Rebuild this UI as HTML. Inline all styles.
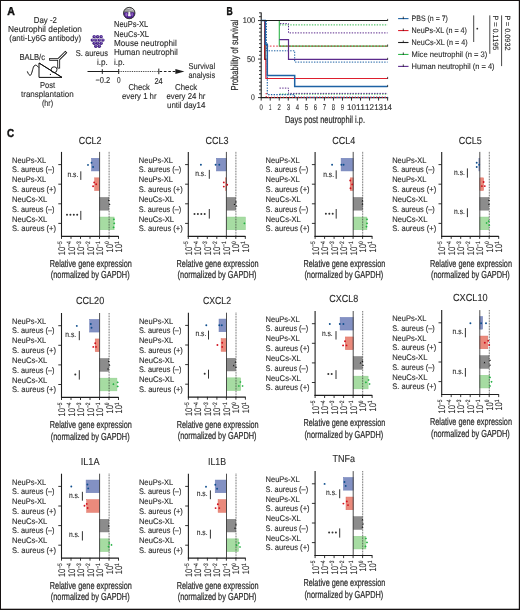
<!DOCTYPE html>
<html><head><meta charset="utf-8"><title>Figure</title>
<style>
html,body{margin:0;padding:0;background:#fff;}
body{width:520px;height:610px;overflow:hidden;}
svg{display:block;font-family:"Liberation Sans",sans-serif;will-change:transform;text-rendering:geometricPrecision;}
</style></head>
<body>
<svg width="520" height="610" viewBox="0 0 520 610">
<defs>
<clipPath id="nc"><circle cx="129.25" cy="13.06" r="5.8"/></clipPath>
<radialGradient id="sg" cx="0.55" cy="0.4" r="0.65"><stop offset="0" stop-color="#9a7fcc"/><stop offset="0.45" stop-color="#4f2a92"/><stop offset="1" stop-color="#260a5c"/></radialGradient>
<linearGradient id="ng" x1="0" y1="0" x2="0" y2="1"><stop offset="0" stop-color="#9a9a9a"/><stop offset="0.5" stop-color="#6a6a6a"/><stop offset="0.55" stop-color="#4a1f8f"/><stop offset="1" stop-color="#3a137a"/></linearGradient>
</defs>
<rect x="0" y="0" width="520" height="610" fill="#fff"/>
<text x="7.30" y="14.80" font-size="11.5" textLength="7.62" lengthAdjust="spacingAndGlyphs" fill="#111" font-weight="bold" stroke="#111" stroke-width="0.4">A</text>
<text x="33.80" y="22.80" font-size="8.6" textLength="23.10" lengthAdjust="spacingAndGlyphs" fill="#2b2b2b" stroke="#2b2b2b" stroke-width="0.12">Day -2</text>
<text x="8.10" y="31.90" font-size="8.6" textLength="73.90" lengthAdjust="spacingAndGlyphs" fill="#2b2b2b" stroke="#2b2b2b" stroke-width="0.12">Neutrophil depletion</text>
<text x="9.30" y="41.30" font-size="8.6" textLength="71.79" lengthAdjust="spacingAndGlyphs" fill="#2b2b2b" stroke="#2b2b2b" stroke-width="0.12">(anti-Ly6G antibody)</text>
<text x="19.40" y="59.70" font-size="8.6" textLength="25.60" lengthAdjust="spacingAndGlyphs" fill="#2b2b2b" stroke="#2b2b2b" stroke-width="0.12">BALB/c</text>
<text x="40.00" y="87.50" font-size="8.6" textLength="15.21" lengthAdjust="spacingAndGlyphs" fill="#2b2b2b" stroke="#2b2b2b" stroke-width="0.12">Post</text>
<text x="21.00" y="97.30" font-size="8.6" textLength="52.70" lengthAdjust="spacingAndGlyphs" fill="#2b2b2b" stroke="#2b2b2b" stroke-width="0.12">transplantation</text>
<text x="41.90" y="106.30" font-size="8.6" textLength="11.20" lengthAdjust="spacingAndGlyphs" fill="#2b2b2b" stroke="#2b2b2b" stroke-width="0.12">(hr)</text>
<path d="M27.3,71.4 C28.5,74.5 29.6,75.6 30.4,75.3 C31.6,74.8 32.4,70 33.4,67.2 C34.3,65.1 35.6,64.9 36.3,65.3 C37.3,65.9 38.1,66.8 38.8,67.5" stroke="#111" stroke-width="1.0" fill="none"/>
<path d="M39.0,63.0 L39.0,77.4 L62.0,77.4 Z" stroke="#111" stroke-width="1.0" fill="none"/>
<circle cx="54.1" cy="69.7" r="2.9" stroke="#111" stroke-width="0.9" fill="#fff"/>
<path d="M39.0,63.0 L62.0,77.4" stroke="#111" stroke-width="1.0" fill="none"/>
<circle cx="50.4" cy="74.4" r="0.6" fill="#111"/>
<path d="M50.6,59.3 L58.7,59.3 L65.3,52.7 M58.7,59.3 L58.7,67.2" stroke="#111" stroke-width="2.8" fill="none" stroke-linecap="square"/>
<path d="M50.6,59.3 L58.7,59.3 L65.3,52.7 M58.7,59.3 L58.7,67.2" stroke="#fff" stroke-width="1.1" fill="none" stroke-linecap="square"/>
<circle cx="94.2" cy="36.8" r="1.7" fill="url(#sg)"/>
<circle cx="97.6" cy="36.8" r="1.7" fill="url(#sg)"/>
<circle cx="101.1" cy="36.8" r="1.7" fill="url(#sg)"/>
<circle cx="92.3" cy="40.1" r="1.7" fill="url(#sg)"/>
<circle cx="95.8" cy="40.1" r="1.7" fill="url(#sg)"/>
<circle cx="99.3" cy="40.1" r="1.7" fill="url(#sg)"/>
<circle cx="102.9" cy="40.1" r="1.7" fill="url(#sg)"/>
<circle cx="94.2" cy="43.3" r="1.7" fill="url(#sg)"/>
<circle cx="97.6" cy="43.3" r="1.7" fill="url(#sg)"/>
<circle cx="101.1" cy="43.3" r="1.7" fill="url(#sg)"/>
<circle cx="95.8" cy="46.3" r="1.7" fill="url(#sg)"/>
<circle cx="99.3" cy="46.3" r="1.7" fill="url(#sg)"/>
<text x="75.80" y="55.70" font-size="8.6" textLength="32.10" lengthAdjust="spacingAndGlyphs" fill="#2b2b2b" stroke="#2b2b2b" stroke-width="0.12">S. aureus</text>
<text x="97.00" y="64.90" font-size="8.6" textLength="10.89" lengthAdjust="spacingAndGlyphs" fill="#2b2b2b" stroke="#2b2b2b" stroke-width="0.12">i.p.</text>
<text x="113.90" y="64.90" font-size="8.6" textLength="10.89" lengthAdjust="spacingAndGlyphs" fill="#2b2b2b" stroke="#2b2b2b" stroke-width="0.12">i.p.</text>
<circle cx="129.25" cy="13.06" r="5.9" fill="#858585"/>
<g clip-path="url(#nc)"><path d="M122,8.8 C125,7.6 130,8.4 134,10.0" stroke="#e6e6e6" stroke-width="0.9" fill="none"/><path d="M123,10.6 C126,9.4 131,10.3 135,11.4" stroke="#d8d8d8" stroke-width="0.7" fill="none"/><path d="M122,13.2 C125.5,11.8 127.5,12.0 129.2,13.0 C131,12.0 133,11.8 137,13.2 L137,20 L122,20 Z" fill="#4b1c8e"/><ellipse cx="126.4" cy="14.6" rx="1.1" ry="1.9" fill="#9466c4"/><ellipse cx="132.2" cy="14.6" rx="1.0" ry="1.8" fill="#8a5cbc"/><path d="M128.6,11.6 L130.0,11.8 L130.9,16.3 L128.0,16.3 Z" fill="#f2f2f2"/></g>
<circle cx="129.25" cy="13.06" r="5.7" fill="none" stroke="#3c3c3c" stroke-width="1.0"/>
<text x="114.00" y="26.80" font-size="8.6" textLength="34.18" lengthAdjust="spacingAndGlyphs" fill="#2b2b2b" stroke="#2b2b2b" stroke-width="0.12">NeuPs-XL</text>
<text x="114.00" y="36.60" font-size="8.6" textLength="34.98" lengthAdjust="spacingAndGlyphs" fill="#2b2b2b" stroke="#2b2b2b" stroke-width="0.12">NeuCs-XL</text>
<text x="114.00" y="46.00" font-size="8.6" textLength="62.71" lengthAdjust="spacingAndGlyphs" fill="#2b2b2b" stroke="#2b2b2b" stroke-width="0.12">Mouse neutrophil</text>
<text x="114.00" y="55.40" font-size="8.6" textLength="63.79" lengthAdjust="spacingAndGlyphs" fill="#2b2b2b" stroke="#2b2b2b" stroke-width="0.12">Human neutrophil</text>
<line x1="87.50" y1="71.50" x2="118.70" y2="71.50" stroke="#1e1e1e" stroke-width="1.0"/>
<line x1="102.30" y1="69.20" x2="102.30" y2="73.90" stroke="#1e1e1e" stroke-width="1.0"/>
<line x1="118.70" y1="69.00" x2="118.70" y2="74.00" stroke="#1e1e1e" stroke-width="1.0"/>
<line x1="119.50" y1="71.50" x2="158.50" y2="71.50" stroke="#1e1e1e" stroke-width="0.9" stroke-dasharray="0.9 0.9"/>
<line x1="158.80" y1="68.60" x2="158.80" y2="74.20" stroke="#1e1e1e" stroke-width="1.0"/>
<line x1="159.50" y1="71.50" x2="178.00" y2="71.50" stroke="#1e1e1e" stroke-width="1.0" stroke-dasharray="2.6 1.8"/>
<path d="M175.4,69.1 L184.4,71.5 L175.4,73.9 Z" fill="#1e1e1e"/>
<text x="95.40" y="83.30" font-size="8.6" textLength="14.79" lengthAdjust="spacingAndGlyphs" fill="#2b2b2b" stroke="#2b2b2b" stroke-width="0.12">−0.2</text>
<text x="117.00" y="83.30" font-size="8.6" textLength="3.61" lengthAdjust="spacingAndGlyphs" fill="#2b2b2b" stroke="#2b2b2b" stroke-width="0.12">0</text>
<text x="154.50" y="83.50" font-size="8.6" textLength="8.22" lengthAdjust="spacingAndGlyphs" fill="#2b2b2b" stroke="#2b2b2b" stroke-width="0.12">24</text>
<text x="128.40" y="89.90" font-size="8.6" textLength="21.46" lengthAdjust="spacingAndGlyphs" fill="#2b2b2b" stroke="#2b2b2b" stroke-width="0.12">Check</text>
<text x="122.00" y="98.70" font-size="8.6" textLength="34.51" lengthAdjust="spacingAndGlyphs" fill="#2b2b2b" stroke="#2b2b2b" stroke-width="0.12">every 1 hr</text>
<text x="175.00" y="89.90" font-size="8.6" textLength="22.26" lengthAdjust="spacingAndGlyphs" fill="#2b2b2b" stroke="#2b2b2b" stroke-width="0.12">Check</text>
<text x="166.50" y="98.70" font-size="8.6" textLength="38.88" lengthAdjust="spacingAndGlyphs" fill="#2b2b2b" stroke="#2b2b2b" stroke-width="0.12">every 24 hr</text>
<text x="167.00" y="108.20" font-size="8.6" textLength="38.42" lengthAdjust="spacingAndGlyphs" fill="#2b2b2b" stroke="#2b2b2b" stroke-width="0.12">until day14</text>
<text x="188.50" y="68.80" font-size="8.6" textLength="26.61" lengthAdjust="spacingAndGlyphs" fill="#2b2b2b" stroke="#2b2b2b" stroke-width="0.12">Survival</text>
<text x="188.50" y="78.40" font-size="8.6" textLength="26.58" lengthAdjust="spacingAndGlyphs" fill="#2b2b2b" stroke="#2b2b2b" stroke-width="0.12">analysis</text>
<text x="226.50" y="14.70" font-size="11.5" textLength="6.22" lengthAdjust="spacingAndGlyphs" fill="#111" font-weight="bold" stroke="#111" stroke-width="0.4">B</text>
<line x1="261.20" y1="12.60" x2="261.20" y2="98.10" stroke="#1e1e1e" stroke-width="1.1"/>
<line x1="260.70" y1="97.60" x2="388.17" y2="97.60" stroke="#1e1e1e" stroke-width="1.1"/>
<line x1="258.00" y1="97.60" x2="261.20" y2="97.60" stroke="#1e1e1e" stroke-width="0.9"/>
<line x1="259.00" y1="93.75" x2="261.20" y2="93.75" stroke="#1e1e1e" stroke-width="0.9"/>
<line x1="259.00" y1="89.89" x2="261.20" y2="89.89" stroke="#1e1e1e" stroke-width="0.9"/>
<line x1="259.00" y1="86.04" x2="261.20" y2="86.04" stroke="#1e1e1e" stroke-width="0.9"/>
<line x1="259.00" y1="82.19" x2="261.20" y2="82.19" stroke="#1e1e1e" stroke-width="0.9"/>
<line x1="259.00" y1="78.34" x2="261.20" y2="78.34" stroke="#1e1e1e" stroke-width="0.9"/>
<line x1="259.00" y1="74.48" x2="261.20" y2="74.48" stroke="#1e1e1e" stroke-width="0.9"/>
<line x1="259.00" y1="70.63" x2="261.20" y2="70.63" stroke="#1e1e1e" stroke-width="0.9"/>
<line x1="259.00" y1="66.78" x2="261.20" y2="66.78" stroke="#1e1e1e" stroke-width="0.9"/>
<line x1="259.00" y1="62.93" x2="261.20" y2="62.93" stroke="#1e1e1e" stroke-width="0.9"/>
<line x1="258.00" y1="59.07" x2="261.20" y2="59.07" stroke="#1e1e1e" stroke-width="0.9"/>
<line x1="259.00" y1="55.22" x2="261.20" y2="55.22" stroke="#1e1e1e" stroke-width="0.9"/>
<line x1="259.00" y1="51.37" x2="261.20" y2="51.37" stroke="#1e1e1e" stroke-width="0.9"/>
<line x1="259.00" y1="47.52" x2="261.20" y2="47.52" stroke="#1e1e1e" stroke-width="0.9"/>
<line x1="259.00" y1="43.66" x2="261.20" y2="43.66" stroke="#1e1e1e" stroke-width="0.9"/>
<line x1="259.00" y1="39.81" x2="261.20" y2="39.81" stroke="#1e1e1e" stroke-width="0.9"/>
<line x1="259.00" y1="35.96" x2="261.20" y2="35.96" stroke="#1e1e1e" stroke-width="0.9"/>
<line x1="259.00" y1="32.11" x2="261.20" y2="32.11" stroke="#1e1e1e" stroke-width="0.9"/>
<line x1="259.00" y1="28.25" x2="261.20" y2="28.25" stroke="#1e1e1e" stroke-width="0.9"/>
<line x1="259.00" y1="24.40" x2="261.20" y2="24.40" stroke="#1e1e1e" stroke-width="0.9"/>
<line x1="258.00" y1="20.55" x2="261.20" y2="20.55" stroke="#1e1e1e" stroke-width="0.9"/>
<line x1="259.00" y1="16.70" x2="261.20" y2="16.70" stroke="#1e1e1e" stroke-width="0.9"/>
<line x1="259.00" y1="12.84" x2="261.20" y2="12.84" stroke="#1e1e1e" stroke-width="0.9"/>
<line x1="261.20" y1="97.60" x2="261.20" y2="100.60" stroke="#1e1e1e" stroke-width="0.9"/>
<line x1="270.23" y1="97.60" x2="270.23" y2="100.60" stroke="#1e1e1e" stroke-width="0.9"/>
<line x1="279.26" y1="97.60" x2="279.26" y2="100.60" stroke="#1e1e1e" stroke-width="0.9"/>
<line x1="288.29" y1="97.60" x2="288.29" y2="100.60" stroke="#1e1e1e" stroke-width="0.9"/>
<line x1="297.32" y1="97.60" x2="297.32" y2="100.60" stroke="#1e1e1e" stroke-width="0.9"/>
<line x1="306.35" y1="97.60" x2="306.35" y2="100.60" stroke="#1e1e1e" stroke-width="0.9"/>
<line x1="315.38" y1="97.60" x2="315.38" y2="100.60" stroke="#1e1e1e" stroke-width="0.9"/>
<line x1="324.41" y1="97.60" x2="324.41" y2="100.60" stroke="#1e1e1e" stroke-width="0.9"/>
<line x1="333.44" y1="97.60" x2="333.44" y2="100.60" stroke="#1e1e1e" stroke-width="0.9"/>
<line x1="342.47" y1="97.60" x2="342.47" y2="100.60" stroke="#1e1e1e" stroke-width="0.9"/>
<line x1="351.50" y1="97.60" x2="351.50" y2="100.60" stroke="#1e1e1e" stroke-width="0.9"/>
<line x1="360.53" y1="97.60" x2="360.53" y2="100.60" stroke="#1e1e1e" stroke-width="0.9"/>
<line x1="369.56" y1="97.60" x2="369.56" y2="100.60" stroke="#1e1e1e" stroke-width="0.9"/>
<line x1="378.59" y1="97.60" x2="378.59" y2="100.60" stroke="#1e1e1e" stroke-width="0.9"/>
<line x1="387.62" y1="97.60" x2="387.62" y2="100.60" stroke="#1e1e1e" stroke-width="0.9"/>
<text x="242.80" y="23.10" font-size="8.3" textLength="12.39" lengthAdjust="spacingAndGlyphs" fill="#2b2b2b" stroke="#2b2b2b" stroke-width="0.12">100</text>
<text x="246.90" y="61.90" font-size="8.3" textLength="8.02" lengthAdjust="spacingAndGlyphs" fill="#2b2b2b" stroke="#2b2b2b" stroke-width="0.12">50</text>
<text x="251.10" y="100.10" font-size="8.3" textLength="3.81" lengthAdjust="spacingAndGlyphs" fill="#2b2b2b" stroke="#2b2b2b" stroke-width="0.12">0</text>
<text x="259.55" y="110.00" font-size="8.3" textLength="3.31" lengthAdjust="spacingAndGlyphs" fill="#2b2b2b" stroke="#2b2b2b" stroke-width="0.12">0</text>
<text x="269.03" y="110.00" font-size="8.3" textLength="2.41" lengthAdjust="spacingAndGlyphs" fill="#2b2b2b" stroke="#2b2b2b" stroke-width="0.12">1</text>
<text x="277.61" y="110.00" font-size="8.3" textLength="3.31" lengthAdjust="spacingAndGlyphs" fill="#2b2b2b" stroke="#2b2b2b" stroke-width="0.12">2</text>
<text x="286.64" y="110.00" font-size="8.3" textLength="3.31" lengthAdjust="spacingAndGlyphs" fill="#2b2b2b" stroke="#2b2b2b" stroke-width="0.12">3</text>
<text x="295.67" y="110.00" font-size="8.3" textLength="3.31" lengthAdjust="spacingAndGlyphs" fill="#2b2b2b" stroke="#2b2b2b" stroke-width="0.12">4</text>
<text x="304.70" y="110.00" font-size="8.3" textLength="3.31" lengthAdjust="spacingAndGlyphs" fill="#2b2b2b" stroke="#2b2b2b" stroke-width="0.12">5</text>
<text x="313.73" y="110.00" font-size="8.3" textLength="3.31" lengthAdjust="spacingAndGlyphs" fill="#2b2b2b" stroke="#2b2b2b" stroke-width="0.12">6</text>
<text x="322.76" y="110.00" font-size="8.3" textLength="3.31" lengthAdjust="spacingAndGlyphs" fill="#2b2b2b" stroke="#2b2b2b" stroke-width="0.12">7</text>
<text x="331.79" y="110.00" font-size="8.3" textLength="3.31" lengthAdjust="spacingAndGlyphs" fill="#2b2b2b" stroke="#2b2b2b" stroke-width="0.12">8</text>
<text x="340.82" y="110.00" font-size="8.3" textLength="3.31" lengthAdjust="spacingAndGlyphs" fill="#2b2b2b" stroke="#2b2b2b" stroke-width="0.12">9</text>
<text x="347.05" y="110.00" font-size="8.3" textLength="8.92" lengthAdjust="spacingAndGlyphs" fill="#2b2b2b" stroke="#2b2b2b" stroke-width="0.12">10</text>
<text x="356.08" y="110.00" font-size="8.3" textLength="8.88" lengthAdjust="spacingAndGlyphs" fill="#2b2b2b" stroke="#2b2b2b" stroke-width="0.12">11</text>
<text x="365.11" y="110.00" font-size="8.3" textLength="8.92" lengthAdjust="spacingAndGlyphs" fill="#2b2b2b" stroke="#2b2b2b" stroke-width="0.12">12</text>
<text x="374.14" y="110.00" font-size="8.3" textLength="8.92" lengthAdjust="spacingAndGlyphs" fill="#2b2b2b" stroke="#2b2b2b" stroke-width="0.12">13</text>
<text x="383.17" y="110.00" font-size="8.3" textLength="8.92" lengthAdjust="spacingAndGlyphs" fill="#2b2b2b" stroke="#2b2b2b" stroke-width="0.12">14</text>
<text x="284.90" y="122.60" font-size="10.1" textLength="80.09" lengthAdjust="spacingAndGlyphs" fill="#2b2b2b" stroke="#2b2b2b" stroke-width="0.22">Days post neutrophil i.p.</text>
<g transform="translate(238.3,90.6) rotate(-90)">
<text x="0.00" y="0.00" font-size="10.1" textLength="70.99" lengthAdjust="spacingAndGlyphs" fill="#2b2b2b" stroke="#2b2b2b" stroke-width="0.22">Probability of survival</text>
</g>
<path d="M263.8,20.5 H266.5 V50.8 H294.7 V62.1 H387.62" stroke="#1d62a4" stroke-width="1.0" fill="none" stroke-dasharray="1.4 1.3"/>
<path d="M279.5,24.9 H387.62" stroke="#2fb64a" stroke-width="1.0" fill="none" stroke-dasharray="1.4 1.3"/>
<path d="M280.0,23.6 H288.5 V32.9 H387.62" stroke="#5b2a8c" stroke-width="1.0" fill="none" stroke-dasharray="1.4 1.3"/>
<path d="M279.3,20.5 V46.1 H387.62" stroke="#2fb64a" stroke-width="1.1" fill="none"/>
<path d="M266.6,46.1 H387.62" stroke="#dd1f2d" stroke-width="0.9" fill="none" stroke-dasharray="1.7 1.5"/>
<path d="M279.3,39.7 H288.5 V59.4 H387.62" stroke="#5b2a8c" stroke-width="1.2" fill="none"/>
<path d="M261.2,20.5 H264.6 V59.4 H265.9 V78.5 H387.62" stroke="#dd1f2d" stroke-width="1.2" fill="none"/>
<path d="M265.2,31 V59.4 H266.3" stroke="#1e1e1e" stroke-width="0.9" fill="none"/>
<path d="M261.2,20.5 H265.3 V44.2 H267.3 V75.6 H294.7 V86.5 H387.62" stroke="#1d62a4" stroke-width="1.5" fill="none"/>
<path d="M261.2,20.5 H387.62" stroke="#1e1e1e" stroke-width="1.2" fill="none"/>
<path d="M279.5,94.1 H387.62" stroke="#2fb64a" stroke-width="1.0" fill="none" stroke-dasharray="1.4 1.3"/>
<path d="M279.5,88.1 H288.5 V93.4 H387.62" stroke="#5b2a8c" stroke-width="1.0" fill="none" stroke-dasharray="1.4 1.3"/>
<path d="M267.3,55 V94.6 H294.5 V97.4 H387.62" stroke="#1d62a4" stroke-width="1.1" fill="none" stroke-dasharray="1.4 1.3"/>
<path d="M264.0,93.6 H266.2 V97.4 H387.62" stroke="#dd1f2d" stroke-width="1.1" fill="none" stroke-dasharray="1.2 1.8" stroke-dashoffset="1.3"/>
<line x1="387.62" y1="21.00" x2="387.62" y2="18.90" stroke="#1e1e1e" stroke-width="0.8"/>
<line x1="387.62" y1="46.60" x2="387.62" y2="44.50" stroke="#1e1e1e" stroke-width="0.8"/>
<line x1="387.62" y1="59.90" x2="387.62" y2="57.80" stroke="#1e1e1e" stroke-width="0.8"/>
<line x1="387.62" y1="79.00" x2="387.62" y2="76.90" stroke="#1e1e1e" stroke-width="0.8"/>
<line x1="387.62" y1="87.00" x2="387.62" y2="84.90" stroke="#1e1e1e" stroke-width="0.8"/>
<line x1="398.10" y1="18.60" x2="408.50" y2="18.60" stroke="#1d62a4" stroke-width="1.1"/>
<line x1="403.30" y1="19.10" x2="403.30" y2="16.60" stroke="#1e1e1e" stroke-width="0.8"/>
<text x="411.60" y="21.20" font-size="7.9" textLength="36.31" lengthAdjust="spacingAndGlyphs" fill="#2b2b2b" stroke="#2b2b2b" stroke-width="0.12">PBS (n = 7)</text>
<line x1="398.10" y1="30.55" x2="408.50" y2="30.55" stroke="#dd1f2d" stroke-width="1.1"/>
<line x1="403.30" y1="31.05" x2="403.30" y2="28.55" stroke="#1e1e1e" stroke-width="0.8"/>
<text x="411.60" y="33.15" font-size="7.9" textLength="55.41" lengthAdjust="spacingAndGlyphs" fill="#2b2b2b" stroke="#2b2b2b" stroke-width="0.12">NeuPs-XL (n = 4)</text>
<line x1="398.10" y1="42.50" x2="408.50" y2="42.50" stroke="#1e1e1e" stroke-width="1.1"/>
<line x1="403.30" y1="43.00" x2="403.30" y2="40.50" stroke="#1e1e1e" stroke-width="0.8"/>
<text x="411.60" y="45.10" font-size="7.9" textLength="56.01" lengthAdjust="spacingAndGlyphs" fill="#2b2b2b" stroke="#2b2b2b" stroke-width="0.12">NeuCs-XL (n = 4)</text>
<line x1="398.10" y1="54.45" x2="408.50" y2="54.45" stroke="#2fb64a" stroke-width="1.1"/>
<line x1="403.30" y1="54.95" x2="403.30" y2="52.45" stroke="#1e1e1e" stroke-width="0.8"/>
<text x="411.60" y="57.05" font-size="7.9" textLength="75.72" lengthAdjust="spacingAndGlyphs" fill="#2b2b2b" stroke="#2b2b2b" stroke-width="0.12">Mice neutrophil (n = 3)</text>
<line x1="398.10" y1="66.40" x2="408.50" y2="66.40" stroke="#5b2a8c" stroke-width="1.1"/>
<line x1="403.30" y1="66.90" x2="403.30" y2="64.40" stroke="#1e1e1e" stroke-width="0.8"/>
<text x="411.60" y="69.00" font-size="7.9" textLength="83.00" lengthAdjust="spacingAndGlyphs" fill="#2b2b2b" stroke="#2b2b2b" stroke-width="0.12">Human neutrophil (n = 4)</text>
<line x1="473.70" y1="15.40" x2="473.70" y2="42.00" stroke="#333" stroke-width="0.9"/>
<circle cx="477.3" cy="28.7" r="0.9" fill="#333"/>
<line x1="489.80" y1="15.40" x2="489.80" y2="53.80" stroke="#333" stroke-width="0.9"/>
<line x1="501.60" y1="15.40" x2="501.60" y2="66.10" stroke="#333" stroke-width="0.9"/>
<g transform="translate(493.3,15.4) rotate(90)">
<text x="0.00" y="0.00" font-size="7.6" textLength="34.99" lengthAdjust="spacingAndGlyphs" fill="#2b2b2b" stroke="#2b2b2b" stroke-width="0.12">P = 0.1195</text>
</g>
<g transform="translate(505.1,15.4) rotate(90)">
<text x="0.00" y="0.00" font-size="7.6" textLength="35.02" lengthAdjust="spacingAndGlyphs" fill="#2b2b2b" stroke="#2b2b2b" stroke-width="0.12">P = 0.0932</text>
</g>
<text x="7.00" y="137.30" font-size="11.5" textLength="7.12" lengthAdjust="spacingAndGlyphs" fill="#111" font-weight="bold" stroke="#111" stroke-width="0.4">C</text>
<text x="78.75" y="143.60" font-size="10.2" textLength="22.72" lengthAdjust="spacingAndGlyphs" fill="#2b2b2b" stroke="#2b2b2b" stroke-width="0.12">CCL2</text>
<text x="12.00" y="162.70" font-size="8.1" textLength="34.18" lengthAdjust="spacingAndGlyphs" fill="#2b2b2b" stroke="#2b2b2b" stroke-width="0.12">NeuPs-XL</text>
<text x="12.00" y="172.30" font-size="8.1" textLength="42.50" lengthAdjust="spacingAndGlyphs" fill="#2b2b2b" stroke="#2b2b2b" stroke-width="0.12">S. aureus (–)</text>
<text x="12.00" y="182.30" font-size="8.1" textLength="34.18" lengthAdjust="spacingAndGlyphs" fill="#2b2b2b" stroke="#2b2b2b" stroke-width="0.12">NeuPs-XL</text>
<text x="12.00" y="191.90" font-size="8.1" textLength="43.99" lengthAdjust="spacingAndGlyphs" fill="#2b2b2b" stroke="#2b2b2b" stroke-width="0.12">S. aureus (+)</text>
<text x="12.00" y="201.90" font-size="8.1" textLength="35.28" lengthAdjust="spacingAndGlyphs" fill="#2b2b2b" stroke="#2b2b2b" stroke-width="0.12">NeuCs-XL</text>
<text x="12.00" y="211.50" font-size="8.1" textLength="42.50" lengthAdjust="spacingAndGlyphs" fill="#2b2b2b" stroke="#2b2b2b" stroke-width="0.12">S. aureus (–)</text>
<text x="12.00" y="221.50" font-size="8.1" textLength="35.28" lengthAdjust="spacingAndGlyphs" fill="#2b2b2b" stroke="#2b2b2b" stroke-width="0.12">NeuCs-XL</text>
<text x="12.00" y="231.10" font-size="8.1" textLength="43.99" lengthAdjust="spacingAndGlyphs" fill="#2b2b2b" stroke="#2b2b2b" stroke-width="0.12">S. aureus (+)</text>
<rect x="91.50" y="158.25" width="8.10" height="12.7" fill="#8391c3" stroke="#6f7fb7" stroke-width="0.5"/>
<rect x="94.70" y="177.85" width="4.90" height="12.7" fill="#ea8a7c" stroke="#de6f62" stroke-width="0.5"/>
<rect x="99.60" y="197.45" width="9.20" height="12.7" fill="#8c8c8c" stroke="#7a7a7a" stroke-width="0.5"/>
<rect x="99.60" y="217.05" width="14.50" height="12.7" fill="#a6dca2" stroke="#8fd08c" stroke-width="0.5"/>
<line x1="109.10" y1="151.90" x2="109.10" y2="236.00" stroke="#222" stroke-width="0.8" stroke-dasharray="0.8 0.8"/>
<line x1="99.60" y1="151.90" x2="99.60" y2="236.00" stroke="#3a3a3a" stroke-width="0.9"/>
<circle cx="88.00" cy="164.90" r="0.95" fill="#0d4d8c"/>
<circle cx="91.50" cy="162.80" r="0.95" fill="#0d4d8c"/>
<circle cx="93.10" cy="167.00" r="0.95" fill="#0d4d8c"/>
<circle cx="94.20" cy="182.40" r="0.95" fill="#d0101e"/>
<circle cx="96.20" cy="184.30" r="0.95" fill="#d0101e"/>
<circle cx="93.10" cy="186.30" r="0.95" fill="#d0101e"/>
<path d="M108.00,201.00 L109.80,201.00 L108.90,199.30 Z" fill="#111111"/>
<path d="M108.70,205.10 L110.50,205.10 L109.60,203.40 Z" fill="#111111"/>
<path d="M113.90,218.20 L115.00,219.30 L113.90,220.40 L112.80,219.30 Z" fill="#20b040"/>
<path d="M114.20,222.20 L115.30,223.30 L114.20,224.40 L113.10,223.30 Z" fill="#20b040"/>
<path d="M113.60,226.20 L114.70,227.30 L113.60,228.40 L112.50,227.30 Z" fill="#20b040"/>
<line x1="61.50" y1="151.90" x2="61.50" y2="236.80" stroke="#1e1e1e" stroke-width="1.1"/>
<line x1="61.00" y1="236.30" x2="118.60" y2="236.30" stroke="#1e1e1e" stroke-width="1.15"/>
<line x1="58.30" y1="164.60" x2="61.50" y2="164.60" stroke="#1e1e1e" stroke-width="0.9"/>
<line x1="58.30" y1="184.20" x2="61.50" y2="184.20" stroke="#1e1e1e" stroke-width="0.9"/>
<line x1="58.30" y1="203.80" x2="61.50" y2="203.80" stroke="#1e1e1e" stroke-width="0.9"/>
<line x1="58.30" y1="223.40" x2="61.50" y2="223.40" stroke="#1e1e1e" stroke-width="0.9"/>
<line x1="61.50" y1="236.00" x2="61.50" y2="238.90" stroke="#1e1e1e" stroke-width="0.9"/>
<g transform="translate(65.00,241.20) rotate(-90) scale(0.78,1)"><text x="-18.06" y="0" font-size="9.6" fill="#2b2b2b" stroke="#2b2b2b" stroke-width="0.12">10<tspan dy="-3.4" font-size="6.3">−5</tspan></text></g>
<line x1="71.00" y1="236.00" x2="71.00" y2="238.90" stroke="#1e1e1e" stroke-width="0.9"/>
<g transform="translate(74.50,241.20) rotate(-90) scale(0.78,1)"><text x="-18.06" y="0" font-size="9.6" fill="#2b2b2b" stroke="#2b2b2b" stroke-width="0.12">10<tspan dy="-3.4" font-size="6.3">−4</tspan></text></g>
<line x1="80.50" y1="236.00" x2="80.50" y2="238.90" stroke="#1e1e1e" stroke-width="0.9"/>
<g transform="translate(84.00,241.20) rotate(-90) scale(0.78,1)"><text x="-18.06" y="0" font-size="9.6" fill="#2b2b2b" stroke="#2b2b2b" stroke-width="0.12">10<tspan dy="-3.4" font-size="6.3">−3</tspan></text></g>
<line x1="90.00" y1="236.00" x2="90.00" y2="238.90" stroke="#1e1e1e" stroke-width="0.9"/>
<g transform="translate(93.50,241.20) rotate(-90) scale(0.78,1)"><text x="-18.06" y="0" font-size="9.6" fill="#2b2b2b" stroke="#2b2b2b" stroke-width="0.12">10<tspan dy="-3.4" font-size="6.3">−2</tspan></text></g>
<line x1="99.50" y1="236.00" x2="99.50" y2="238.90" stroke="#1e1e1e" stroke-width="0.9"/>
<g transform="translate(103.00,241.20) rotate(-90) scale(0.78,1)"><text x="-18.06" y="0" font-size="9.6" fill="#2b2b2b" stroke="#2b2b2b" stroke-width="0.12">10<tspan dy="-3.4" font-size="6.3">−1</tspan></text></g>
<line x1="109.00" y1="236.00" x2="109.00" y2="238.90" stroke="#1e1e1e" stroke-width="0.9"/>
<g transform="translate(112.50,241.20) rotate(-90) scale(0.78,1)"><text x="-14.38" y="0" font-size="9.6" fill="#2b2b2b" stroke="#2b2b2b" stroke-width="0.12">10<tspan dy="-3.4" font-size="6.3">0</tspan></text></g>
<line x1="118.50" y1="236.00" x2="118.50" y2="238.90" stroke="#1e1e1e" stroke-width="0.9"/>
<g transform="translate(122.00,241.20) rotate(-90) scale(0.78,1)"><text x="-14.38" y="0" font-size="9.6" fill="#2b2b2b" stroke="#2b2b2b" stroke-width="0.12">10<tspan dy="-3.4" font-size="6.3">1</tspan></text></g>
<text x="49.80" y="267.10" font-size="10.1" textLength="81.99" lengthAdjust="spacingAndGlyphs" fill="#2b2b2b" stroke="#2b2b2b" stroke-width="0.22">Relative gene expression</text>
<text x="50.80" y="278.40" font-size="10.1" textLength="78.80" lengthAdjust="spacingAndGlyphs" fill="#2b2b2b" stroke="#2b2b2b" stroke-width="0.22">(normalized by GAPDH)</text>
<line x1="80.80" y1="171.30" x2="80.80" y2="179.90" stroke="#333" stroke-width="1.0"/>
<text x="67.50" y="176.80" font-size="7.9" textLength="10.81" lengthAdjust="spacingAndGlyphs" fill="#2b2b2b" stroke="#2b2b2b" stroke-width="0.12">n.s.</text>
<line x1="80.80" y1="210.90" x2="80.80" y2="219.90" stroke="#333" stroke-width="1.0"/>
<circle cx="67.00" cy="214.70" r="1.0" fill="#333"/>
<circle cx="70.40" cy="214.70" r="1.0" fill="#333"/>
<circle cx="73.80" cy="214.70" r="1.0" fill="#333"/>
<circle cx="77.20" cy="214.70" r="1.0" fill="#333"/>
<text x="205.40" y="143.60" font-size="10.2" textLength="23.02" lengthAdjust="spacingAndGlyphs" fill="#2b2b2b" stroke="#2b2b2b" stroke-width="0.12">CCL3</text>
<text x="138.80" y="162.70" font-size="8.1" textLength="34.18" lengthAdjust="spacingAndGlyphs" fill="#2b2b2b" stroke="#2b2b2b" stroke-width="0.12">NeuPs-XL</text>
<text x="138.80" y="172.30" font-size="8.1" textLength="42.50" lengthAdjust="spacingAndGlyphs" fill="#2b2b2b" stroke="#2b2b2b" stroke-width="0.12">S. aureus (–)</text>
<text x="138.80" y="182.30" font-size="8.1" textLength="34.18" lengthAdjust="spacingAndGlyphs" fill="#2b2b2b" stroke="#2b2b2b" stroke-width="0.12">NeuPs-XL</text>
<text x="138.80" y="191.90" font-size="8.1" textLength="43.99" lengthAdjust="spacingAndGlyphs" fill="#2b2b2b" stroke="#2b2b2b" stroke-width="0.12">S. aureus (+)</text>
<text x="138.80" y="201.90" font-size="8.1" textLength="35.28" lengthAdjust="spacingAndGlyphs" fill="#2b2b2b" stroke="#2b2b2b" stroke-width="0.12">NeuCs-XL</text>
<text x="138.80" y="211.50" font-size="8.1" textLength="42.50" lengthAdjust="spacingAndGlyphs" fill="#2b2b2b" stroke="#2b2b2b" stroke-width="0.12">S. aureus (–)</text>
<text x="138.80" y="221.50" font-size="8.1" textLength="35.28" lengthAdjust="spacingAndGlyphs" fill="#2b2b2b" stroke="#2b2b2b" stroke-width="0.12">NeuCs-XL</text>
<text x="138.80" y="231.10" font-size="8.1" textLength="43.99" lengthAdjust="spacingAndGlyphs" fill="#2b2b2b" stroke="#2b2b2b" stroke-width="0.12">S. aureus (+)</text>
<rect x="216.40" y="158.25" width="10.00" height="12.7" fill="#8391c3" stroke="#6f7fb7" stroke-width="0.5"/>
<rect x="225.60" y="177.85" width="0.80" height="12.7" fill="#ea8a7c" stroke="#de6f62" stroke-width="0.5"/>
<rect x="226.40" y="197.45" width="9.20" height="12.7" fill="#8c8c8c" stroke="#7a7a7a" stroke-width="0.5"/>
<rect x="226.40" y="217.05" width="19.00" height="12.7" fill="#a6dca2" stroke="#8fd08c" stroke-width="0.5"/>
<line x1="235.90" y1="151.90" x2="235.90" y2="236.00" stroke="#222" stroke-width="0.8" stroke-dasharray="0.8 0.8"/>
<line x1="226.40" y1="151.90" x2="226.40" y2="236.00" stroke="#3a3a3a" stroke-width="0.9"/>
<circle cx="200.90" cy="164.70" r="0.95" fill="#0d4d8c"/>
<circle cx="215.60" cy="164.70" r="0.95" fill="#0d4d8c"/>
<circle cx="219.30" cy="164.70" r="0.95" fill="#0d4d8c"/>
<circle cx="223.80" cy="182.40" r="0.95" fill="#d0101e"/>
<circle cx="227.20" cy="184.70" r="0.95" fill="#d0101e"/>
<circle cx="223.80" cy="186.60" r="0.95" fill="#d0101e"/>
<path d="M235.10,202.40 L236.90,202.40 L236.00,200.70 Z" fill="#111111"/>
<path d="M233.60,205.10 L235.40,205.10 L234.50,203.40 Z" fill="#111111"/>
<path d="M235.60,206.60 L237.40,206.60 L236.50,204.90 Z" fill="#111111"/>
<path d="M244.40,222.20 L245.50,223.30 L244.40,224.40 L243.30,223.30 Z" fill="#20b040"/>
<line x1="188.30" y1="151.90" x2="188.30" y2="236.80" stroke="#1e1e1e" stroke-width="1.1"/>
<line x1="187.80" y1="236.30" x2="245.40" y2="236.30" stroke="#1e1e1e" stroke-width="1.15"/>
<line x1="185.10" y1="164.60" x2="188.30" y2="164.60" stroke="#1e1e1e" stroke-width="0.9"/>
<line x1="185.10" y1="184.20" x2="188.30" y2="184.20" stroke="#1e1e1e" stroke-width="0.9"/>
<line x1="185.10" y1="203.80" x2="188.30" y2="203.80" stroke="#1e1e1e" stroke-width="0.9"/>
<line x1="185.10" y1="223.40" x2="188.30" y2="223.40" stroke="#1e1e1e" stroke-width="0.9"/>
<line x1="188.30" y1="236.00" x2="188.30" y2="238.90" stroke="#1e1e1e" stroke-width="0.9"/>
<g transform="translate(191.80,241.20) rotate(-90) scale(0.78,1)"><text x="-18.06" y="0" font-size="9.6" fill="#2b2b2b" stroke="#2b2b2b" stroke-width="0.12">10<tspan dy="-3.4" font-size="6.3">−5</tspan></text></g>
<line x1="197.80" y1="236.00" x2="197.80" y2="238.90" stroke="#1e1e1e" stroke-width="0.9"/>
<g transform="translate(201.30,241.20) rotate(-90) scale(0.78,1)"><text x="-18.06" y="0" font-size="9.6" fill="#2b2b2b" stroke="#2b2b2b" stroke-width="0.12">10<tspan dy="-3.4" font-size="6.3">−4</tspan></text></g>
<line x1="207.30" y1="236.00" x2="207.30" y2="238.90" stroke="#1e1e1e" stroke-width="0.9"/>
<g transform="translate(210.80,241.20) rotate(-90) scale(0.78,1)"><text x="-18.06" y="0" font-size="9.6" fill="#2b2b2b" stroke="#2b2b2b" stroke-width="0.12">10<tspan dy="-3.4" font-size="6.3">−3</tspan></text></g>
<line x1="216.80" y1="236.00" x2="216.80" y2="238.90" stroke="#1e1e1e" stroke-width="0.9"/>
<g transform="translate(220.30,241.20) rotate(-90) scale(0.78,1)"><text x="-18.06" y="0" font-size="9.6" fill="#2b2b2b" stroke="#2b2b2b" stroke-width="0.12">10<tspan dy="-3.4" font-size="6.3">−2</tspan></text></g>
<line x1="226.30" y1="236.00" x2="226.30" y2="238.90" stroke="#1e1e1e" stroke-width="0.9"/>
<g transform="translate(229.80,241.20) rotate(-90) scale(0.78,1)"><text x="-18.06" y="0" font-size="9.6" fill="#2b2b2b" stroke="#2b2b2b" stroke-width="0.12">10<tspan dy="-3.4" font-size="6.3">−1</tspan></text></g>
<line x1="235.80" y1="236.00" x2="235.80" y2="238.90" stroke="#1e1e1e" stroke-width="0.9"/>
<g transform="translate(239.30,241.20) rotate(-90) scale(0.78,1)"><text x="-14.38" y="0" font-size="9.6" fill="#2b2b2b" stroke="#2b2b2b" stroke-width="0.12">10<tspan dy="-3.4" font-size="6.3">0</tspan></text></g>
<line x1="245.30" y1="236.00" x2="245.30" y2="238.90" stroke="#1e1e1e" stroke-width="0.9"/>
<g transform="translate(248.80,241.20) rotate(-90) scale(0.78,1)"><text x="-14.38" y="0" font-size="9.6" fill="#2b2b2b" stroke="#2b2b2b" stroke-width="0.12">10<tspan dy="-3.4" font-size="6.3">1</tspan></text></g>
<text x="176.60" y="267.10" font-size="10.1" textLength="81.99" lengthAdjust="spacingAndGlyphs" fill="#2b2b2b" stroke="#2b2b2b" stroke-width="0.22">Relative gene expression</text>
<text x="177.60" y="278.40" font-size="10.1" textLength="78.80" lengthAdjust="spacingAndGlyphs" fill="#2b2b2b" stroke="#2b2b2b" stroke-width="0.22">(normalized by GAPDH)</text>
<line x1="209.30" y1="169.90" x2="209.30" y2="178.80" stroke="#333" stroke-width="1.0"/>
<text x="195.20" y="176.30" font-size="7.9" textLength="10.81" lengthAdjust="spacingAndGlyphs" fill="#2b2b2b" stroke="#2b2b2b" stroke-width="0.12">n.s.</text>
<line x1="209.30" y1="209.00" x2="209.30" y2="218.60" stroke="#333" stroke-width="1.0"/>
<circle cx="194.50" cy="213.90" r="1.0" fill="#333"/>
<circle cx="197.90" cy="213.90" r="1.0" fill="#333"/>
<circle cx="201.30" cy="213.90" r="1.0" fill="#333"/>
<circle cx="204.70" cy="213.90" r="1.0" fill="#333"/>
<text x="332.20" y="143.60" font-size="10.2" textLength="23.02" lengthAdjust="spacingAndGlyphs" fill="#2b2b2b" stroke="#2b2b2b" stroke-width="0.12">CCL4</text>
<text x="265.60" y="162.70" font-size="8.1" textLength="34.18" lengthAdjust="spacingAndGlyphs" fill="#2b2b2b" stroke="#2b2b2b" stroke-width="0.12">NeuPs-XL</text>
<text x="265.60" y="172.30" font-size="8.1" textLength="42.50" lengthAdjust="spacingAndGlyphs" fill="#2b2b2b" stroke="#2b2b2b" stroke-width="0.12">S. aureus (–)</text>
<text x="265.60" y="182.30" font-size="8.1" textLength="34.18" lengthAdjust="spacingAndGlyphs" fill="#2b2b2b" stroke="#2b2b2b" stroke-width="0.12">NeuPs-XL</text>
<text x="265.60" y="191.90" font-size="8.1" textLength="43.99" lengthAdjust="spacingAndGlyphs" fill="#2b2b2b" stroke="#2b2b2b" stroke-width="0.12">S. aureus (+)</text>
<text x="265.60" y="201.90" font-size="8.1" textLength="35.28" lengthAdjust="spacingAndGlyphs" fill="#2b2b2b" stroke="#2b2b2b" stroke-width="0.12">NeuCs-XL</text>
<text x="265.60" y="211.50" font-size="8.1" textLength="42.50" lengthAdjust="spacingAndGlyphs" fill="#2b2b2b" stroke="#2b2b2b" stroke-width="0.12">S. aureus (–)</text>
<text x="265.60" y="221.50" font-size="8.1" textLength="35.28" lengthAdjust="spacingAndGlyphs" fill="#2b2b2b" stroke="#2b2b2b" stroke-width="0.12">NeuCs-XL</text>
<text x="265.60" y="231.10" font-size="8.1" textLength="43.99" lengthAdjust="spacingAndGlyphs" fill="#2b2b2b" stroke="#2b2b2b" stroke-width="0.12">S. aureus (+)</text>
<rect x="341.10" y="158.25" width="12.10" height="12.7" fill="#8391c3" stroke="#6f7fb7" stroke-width="0.5"/>
<rect x="350.20" y="177.85" width="3.00" height="12.7" fill="#ea8a7c" stroke="#de6f62" stroke-width="0.5"/>
<rect x="353.20" y="197.45" width="9.30" height="12.7" fill="#8c8c8c" stroke="#7a7a7a" stroke-width="0.5"/>
<rect x="353.20" y="217.05" width="13.70" height="12.7" fill="#a6dca2" stroke="#8fd08c" stroke-width="0.5"/>
<line x1="362.70" y1="151.90" x2="362.70" y2="236.00" stroke="#222" stroke-width="0.8" stroke-dasharray="0.8 0.8"/>
<line x1="353.20" y1="151.90" x2="353.20" y2="236.00" stroke="#3a3a3a" stroke-width="0.9"/>
<circle cx="332.10" cy="164.80" r="0.95" fill="#0d4d8c"/>
<circle cx="341.40" cy="164.80" r="0.95" fill="#0d4d8c"/>
<circle cx="343.60" cy="164.80" r="0.95" fill="#0d4d8c"/>
<circle cx="350.20" cy="180.50" r="0.95" fill="#d0101e"/>
<circle cx="352.20" cy="184.40" r="0.95" fill="#d0101e"/>
<circle cx="350.50" cy="188.30" r="0.95" fill="#d0101e"/>
<path d="M361.60,201.40 L363.40,201.40 L362.50,199.70 Z" fill="#111111"/>
<path d="M361.60,204.80 L363.40,204.80 L362.50,203.10 Z" fill="#111111"/>
<path d="M367.00,218.20 L368.10,219.30 L367.00,220.40 L365.90,219.30 Z" fill="#20b040"/>
<path d="M367.00,222.20 L368.10,223.30 L367.00,224.40 L365.90,223.30 Z" fill="#20b040"/>
<path d="M366.50,225.60 L367.60,226.70 L366.50,227.80 L365.40,226.70 Z" fill="#20b040"/>
<line x1="315.10" y1="151.90" x2="315.10" y2="236.80" stroke="#1e1e1e" stroke-width="1.1"/>
<line x1="314.60" y1="236.30" x2="372.20" y2="236.30" stroke="#1e1e1e" stroke-width="1.15"/>
<line x1="311.90" y1="164.60" x2="315.10" y2="164.60" stroke="#1e1e1e" stroke-width="0.9"/>
<line x1="311.90" y1="184.20" x2="315.10" y2="184.20" stroke="#1e1e1e" stroke-width="0.9"/>
<line x1="311.90" y1="203.80" x2="315.10" y2="203.80" stroke="#1e1e1e" stroke-width="0.9"/>
<line x1="311.90" y1="223.40" x2="315.10" y2="223.40" stroke="#1e1e1e" stroke-width="0.9"/>
<line x1="315.10" y1="236.00" x2="315.10" y2="238.90" stroke="#1e1e1e" stroke-width="0.9"/>
<g transform="translate(318.60,241.20) rotate(-90) scale(0.78,1)"><text x="-18.06" y="0" font-size="9.6" fill="#2b2b2b" stroke="#2b2b2b" stroke-width="0.12">10<tspan dy="-3.4" font-size="6.3">−5</tspan></text></g>
<line x1="324.60" y1="236.00" x2="324.60" y2="238.90" stroke="#1e1e1e" stroke-width="0.9"/>
<g transform="translate(328.10,241.20) rotate(-90) scale(0.78,1)"><text x="-18.06" y="0" font-size="9.6" fill="#2b2b2b" stroke="#2b2b2b" stroke-width="0.12">10<tspan dy="-3.4" font-size="6.3">−4</tspan></text></g>
<line x1="334.10" y1="236.00" x2="334.10" y2="238.90" stroke="#1e1e1e" stroke-width="0.9"/>
<g transform="translate(337.60,241.20) rotate(-90) scale(0.78,1)"><text x="-18.06" y="0" font-size="9.6" fill="#2b2b2b" stroke="#2b2b2b" stroke-width="0.12">10<tspan dy="-3.4" font-size="6.3">−3</tspan></text></g>
<line x1="343.60" y1="236.00" x2="343.60" y2="238.90" stroke="#1e1e1e" stroke-width="0.9"/>
<g transform="translate(347.10,241.20) rotate(-90) scale(0.78,1)"><text x="-18.06" y="0" font-size="9.6" fill="#2b2b2b" stroke="#2b2b2b" stroke-width="0.12">10<tspan dy="-3.4" font-size="6.3">−2</tspan></text></g>
<line x1="353.10" y1="236.00" x2="353.10" y2="238.90" stroke="#1e1e1e" stroke-width="0.9"/>
<g transform="translate(356.60,241.20) rotate(-90) scale(0.78,1)"><text x="-18.06" y="0" font-size="9.6" fill="#2b2b2b" stroke="#2b2b2b" stroke-width="0.12">10<tspan dy="-3.4" font-size="6.3">−1</tspan></text></g>
<line x1="362.60" y1="236.00" x2="362.60" y2="238.90" stroke="#1e1e1e" stroke-width="0.9"/>
<g transform="translate(366.10,241.20) rotate(-90) scale(0.78,1)"><text x="-14.38" y="0" font-size="9.6" fill="#2b2b2b" stroke="#2b2b2b" stroke-width="0.12">10<tspan dy="-3.4" font-size="6.3">0</tspan></text></g>
<line x1="372.10" y1="236.00" x2="372.10" y2="238.90" stroke="#1e1e1e" stroke-width="0.9"/>
<g transform="translate(375.60,241.20) rotate(-90) scale(0.78,1)"><text x="-14.38" y="0" font-size="9.6" fill="#2b2b2b" stroke="#2b2b2b" stroke-width="0.12">10<tspan dy="-3.4" font-size="6.3">1</tspan></text></g>
<text x="303.40" y="267.10" font-size="10.1" textLength="81.99" lengthAdjust="spacingAndGlyphs" fill="#2b2b2b" stroke="#2b2b2b" stroke-width="0.22">Relative gene expression</text>
<text x="304.40" y="278.40" font-size="10.1" textLength="78.80" lengthAdjust="spacingAndGlyphs" fill="#2b2b2b" stroke="#2b2b2b" stroke-width="0.22">(normalized by GAPDH)</text>
<line x1="336.20" y1="170.40" x2="336.20" y2="178.80" stroke="#333" stroke-width="1.0"/>
<text x="323.20" y="176.60" font-size="7.9" textLength="10.81" lengthAdjust="spacingAndGlyphs" fill="#2b2b2b" stroke="#2b2b2b" stroke-width="0.12">n.s.</text>
<line x1="336.20" y1="209.00" x2="336.20" y2="218.60" stroke="#333" stroke-width="1.0"/>
<circle cx="325.90" cy="213.70" r="1.0" fill="#333"/>
<circle cx="329.30" cy="213.70" r="1.0" fill="#333"/>
<circle cx="332.70" cy="213.70" r="1.0" fill="#333"/>
<text x="458.80" y="143.60" font-size="10.2" textLength="23.02" lengthAdjust="spacingAndGlyphs" fill="#2b2b2b" stroke="#2b2b2b" stroke-width="0.12">CCL5</text>
<text x="392.20" y="162.70" font-size="8.1" textLength="34.18" lengthAdjust="spacingAndGlyphs" fill="#2b2b2b" stroke="#2b2b2b" stroke-width="0.12">NeuPs-XL</text>
<text x="392.20" y="172.30" font-size="8.1" textLength="42.50" lengthAdjust="spacingAndGlyphs" fill="#2b2b2b" stroke="#2b2b2b" stroke-width="0.12">S. aureus (–)</text>
<text x="392.20" y="182.30" font-size="8.1" textLength="34.18" lengthAdjust="spacingAndGlyphs" fill="#2b2b2b" stroke="#2b2b2b" stroke-width="0.12">NeuPs-XL</text>
<text x="392.20" y="191.90" font-size="8.1" textLength="43.99" lengthAdjust="spacingAndGlyphs" fill="#2b2b2b" stroke="#2b2b2b" stroke-width="0.12">S. aureus (+)</text>
<text x="392.20" y="201.90" font-size="8.1" textLength="35.28" lengthAdjust="spacingAndGlyphs" fill="#2b2b2b" stroke="#2b2b2b" stroke-width="0.12">NeuCs-XL</text>
<text x="392.20" y="211.50" font-size="8.1" textLength="42.50" lengthAdjust="spacingAndGlyphs" fill="#2b2b2b" stroke="#2b2b2b" stroke-width="0.12">S. aureus (–)</text>
<text x="392.20" y="221.50" font-size="8.1" textLength="35.28" lengthAdjust="spacingAndGlyphs" fill="#2b2b2b" stroke="#2b2b2b" stroke-width="0.12">NeuCs-XL</text>
<text x="392.20" y="231.10" font-size="8.1" textLength="43.99" lengthAdjust="spacingAndGlyphs" fill="#2b2b2b" stroke="#2b2b2b" stroke-width="0.12">S. aureus (+)</text>
<rect x="478.90" y="158.25" width="0.90" height="12.7" fill="#8391c3" stroke="#6f7fb7" stroke-width="0.5"/>
<rect x="479.80" y="177.85" width="3.80" height="12.7" fill="#ea8a7c" stroke="#de6f62" stroke-width="0.5"/>
<rect x="479.80" y="197.45" width="9.00" height="12.7" fill="#8c8c8c" stroke="#7a7a7a" stroke-width="0.5"/>
<rect x="479.80" y="217.05" width="9.00" height="12.7" fill="#a6dca2" stroke="#8fd08c" stroke-width="0.5"/>
<line x1="489.30" y1="151.90" x2="489.30" y2="236.00" stroke="#222" stroke-width="0.8" stroke-dasharray="0.8 0.8"/>
<line x1="479.80" y1="151.90" x2="479.80" y2="236.00" stroke="#3a3a3a" stroke-width="0.9"/>
<circle cx="476.70" cy="162.80" r="0.95" fill="#0d4d8c"/>
<circle cx="479.20" cy="164.70" r="0.95" fill="#0d4d8c"/>
<circle cx="476.70" cy="167.00" r="0.95" fill="#0d4d8c"/>
<circle cx="483.60" cy="182.00" r="0.95" fill="#d0101e"/>
<circle cx="481.90" cy="186.10" r="0.95" fill="#d0101e"/>
<circle cx="484.80" cy="186.10" r="0.95" fill="#d0101e"/>
<path d="M488.10,201.10 L489.90,201.10 L489.00,199.40 Z" fill="#111111"/>
<path d="M488.10,205.10 L489.90,205.10 L489.00,203.40 Z" fill="#111111"/>
<path d="M488.80,220.10 L489.90,221.20 L488.80,222.30 L487.70,221.20 Z" fill="#20b040"/>
<path d="M486.60,221.90 L487.70,223.00 L486.60,224.10 L485.50,223.00 Z" fill="#20b040"/>
<path d="M489.20,224.10 L490.30,225.20 L489.20,226.30 L488.10,225.20 Z" fill="#20b040"/>
<line x1="441.70" y1="151.90" x2="441.70" y2="236.80" stroke="#1e1e1e" stroke-width="1.1"/>
<line x1="441.20" y1="236.30" x2="498.80" y2="236.30" stroke="#1e1e1e" stroke-width="1.15"/>
<line x1="438.50" y1="164.60" x2="441.70" y2="164.60" stroke="#1e1e1e" stroke-width="0.9"/>
<line x1="438.50" y1="184.20" x2="441.70" y2="184.20" stroke="#1e1e1e" stroke-width="0.9"/>
<line x1="438.50" y1="203.80" x2="441.70" y2="203.80" stroke="#1e1e1e" stroke-width="0.9"/>
<line x1="438.50" y1="223.40" x2="441.70" y2="223.40" stroke="#1e1e1e" stroke-width="0.9"/>
<line x1="441.70" y1="236.00" x2="441.70" y2="238.90" stroke="#1e1e1e" stroke-width="0.9"/>
<g transform="translate(445.20,241.20) rotate(-90) scale(0.78,1)"><text x="-18.06" y="0" font-size="9.6" fill="#2b2b2b" stroke="#2b2b2b" stroke-width="0.12">10<tspan dy="-3.4" font-size="6.3">−5</tspan></text></g>
<line x1="451.20" y1="236.00" x2="451.20" y2="238.90" stroke="#1e1e1e" stroke-width="0.9"/>
<g transform="translate(454.70,241.20) rotate(-90) scale(0.78,1)"><text x="-18.06" y="0" font-size="9.6" fill="#2b2b2b" stroke="#2b2b2b" stroke-width="0.12">10<tspan dy="-3.4" font-size="6.3">−4</tspan></text></g>
<line x1="460.70" y1="236.00" x2="460.70" y2="238.90" stroke="#1e1e1e" stroke-width="0.9"/>
<g transform="translate(464.20,241.20) rotate(-90) scale(0.78,1)"><text x="-18.06" y="0" font-size="9.6" fill="#2b2b2b" stroke="#2b2b2b" stroke-width="0.12">10<tspan dy="-3.4" font-size="6.3">−3</tspan></text></g>
<line x1="470.20" y1="236.00" x2="470.20" y2="238.90" stroke="#1e1e1e" stroke-width="0.9"/>
<g transform="translate(473.70,241.20) rotate(-90) scale(0.78,1)"><text x="-18.06" y="0" font-size="9.6" fill="#2b2b2b" stroke="#2b2b2b" stroke-width="0.12">10<tspan dy="-3.4" font-size="6.3">−2</tspan></text></g>
<line x1="479.70" y1="236.00" x2="479.70" y2="238.90" stroke="#1e1e1e" stroke-width="0.9"/>
<g transform="translate(483.20,241.20) rotate(-90) scale(0.78,1)"><text x="-18.06" y="0" font-size="9.6" fill="#2b2b2b" stroke="#2b2b2b" stroke-width="0.12">10<tspan dy="-3.4" font-size="6.3">−1</tspan></text></g>
<line x1="489.20" y1="236.00" x2="489.20" y2="238.90" stroke="#1e1e1e" stroke-width="0.9"/>
<g transform="translate(492.70,241.20) rotate(-90) scale(0.78,1)"><text x="-14.38" y="0" font-size="9.6" fill="#2b2b2b" stroke="#2b2b2b" stroke-width="0.12">10<tspan dy="-3.4" font-size="6.3">0</tspan></text></g>
<line x1="498.70" y1="236.00" x2="498.70" y2="238.90" stroke="#1e1e1e" stroke-width="0.9"/>
<g transform="translate(502.20,241.20) rotate(-90) scale(0.78,1)"><text x="-14.38" y="0" font-size="9.6" fill="#2b2b2b" stroke="#2b2b2b" stroke-width="0.12">10<tspan dy="-3.4" font-size="6.3">1</tspan></text></g>
<text x="430.00" y="267.10" font-size="10.1" textLength="81.99" lengthAdjust="spacingAndGlyphs" fill="#2b2b2b" stroke="#2b2b2b" stroke-width="0.22">Relative gene expression</text>
<text x="431.00" y="278.40" font-size="10.1" textLength="78.80" lengthAdjust="spacingAndGlyphs" fill="#2b2b2b" stroke="#2b2b2b" stroke-width="0.22">(normalized by GAPDH)</text>
<line x1="467.40" y1="168.40" x2="467.40" y2="177.70" stroke="#333" stroke-width="1.0"/>
<text x="454.10" y="175.00" font-size="7.9" textLength="10.81" lengthAdjust="spacingAndGlyphs" fill="#2b2b2b" stroke="#2b2b2b" stroke-width="0.12">n.s.</text>
<line x1="467.40" y1="208.30" x2="467.40" y2="217.10" stroke="#333" stroke-width="1.0"/>
<text x="454.10" y="214.30" font-size="7.9" textLength="10.81" lengthAdjust="spacingAndGlyphs" fill="#2b2b2b" stroke="#2b2b2b" stroke-width="0.12">n.s.</text>
<text x="76.00" y="304.10" font-size="10.2" textLength="28.18" lengthAdjust="spacingAndGlyphs" fill="#2b2b2b" stroke="#2b2b2b" stroke-width="0.12">CCL20</text>
<text x="12.00" y="323.80" font-size="8.1" textLength="34.18" lengthAdjust="spacingAndGlyphs" fill="#2b2b2b" stroke="#2b2b2b" stroke-width="0.12">NeuPs-XL</text>
<text x="12.00" y="333.40" font-size="8.1" textLength="42.50" lengthAdjust="spacingAndGlyphs" fill="#2b2b2b" stroke="#2b2b2b" stroke-width="0.12">S. aureus (–)</text>
<text x="12.00" y="343.40" font-size="8.1" textLength="34.18" lengthAdjust="spacingAndGlyphs" fill="#2b2b2b" stroke="#2b2b2b" stroke-width="0.12">NeuPs-XL</text>
<text x="12.00" y="353.00" font-size="8.1" textLength="43.99" lengthAdjust="spacingAndGlyphs" fill="#2b2b2b" stroke="#2b2b2b" stroke-width="0.12">S. aureus (+)</text>
<text x="12.00" y="363.00" font-size="8.1" textLength="35.28" lengthAdjust="spacingAndGlyphs" fill="#2b2b2b" stroke="#2b2b2b" stroke-width="0.12">NeuCs-XL</text>
<text x="12.00" y="372.60" font-size="8.1" textLength="42.50" lengthAdjust="spacingAndGlyphs" fill="#2b2b2b" stroke="#2b2b2b" stroke-width="0.12">S. aureus (–)</text>
<text x="12.00" y="382.60" font-size="8.1" textLength="35.28" lengthAdjust="spacingAndGlyphs" fill="#2b2b2b" stroke="#2b2b2b" stroke-width="0.12">NeuCs-XL</text>
<text x="12.00" y="392.20" font-size="8.1" textLength="43.99" lengthAdjust="spacingAndGlyphs" fill="#2b2b2b" stroke="#2b2b2b" stroke-width="0.12">S. aureus (+)</text>
<rect x="89.60" y="319.35" width="10.00" height="12.7" fill="#8391c3" stroke="#6f7fb7" stroke-width="0.5"/>
<rect x="95.20" y="338.95" width="4.40" height="12.7" fill="#ea8a7c" stroke="#de6f62" stroke-width="0.5"/>
<rect x="99.60" y="358.55" width="9.20" height="12.7" fill="#8c8c8c" stroke="#7a7a7a" stroke-width="0.5"/>
<rect x="99.60" y="378.15" width="17.30" height="12.7" fill="#a6dca2" stroke="#8fd08c" stroke-width="0.5"/>
<line x1="109.10" y1="313.00" x2="109.10" y2="397.10" stroke="#222" stroke-width="0.8" stroke-dasharray="0.8 0.8"/>
<line x1="99.60" y1="313.00" x2="99.60" y2="397.10" stroke="#3a3a3a" stroke-width="0.9"/>
<circle cx="76.80" cy="325.90" r="0.95" fill="#0d4d8c"/>
<circle cx="90.80" cy="324.00" r="0.95" fill="#0d4d8c"/>
<circle cx="91.50" cy="327.70" r="0.95" fill="#0d4d8c"/>
<circle cx="95.20" cy="343.20" r="0.95" fill="#d0101e"/>
<circle cx="93.30" cy="346.90" r="0.95" fill="#d0101e"/>
<circle cx="96.00" cy="346.90" r="0.95" fill="#d0101e"/>
<path d="M107.90,362.10 L109.70,362.10 L108.80,360.40 Z" fill="#111111"/>
<path d="M108.60,365.80 L110.40,365.80 L109.50,364.10 Z" fill="#111111"/>
<path d="M107.10,369.50 L108.90,369.50 L108.00,367.80 Z" fill="#111111"/>
<path d="M117.70,381.20 L118.80,382.30 L117.70,383.40 L116.60,382.30 Z" fill="#20b040"/>
<path d="M113.40,383.10 L114.50,384.20 L113.40,385.30 L112.30,384.20 Z" fill="#20b040"/>
<path d="M117.70,385.30 L118.80,386.40 L117.70,387.50 L116.60,386.40 Z" fill="#20b040"/>
<line x1="61.50" y1="313.00" x2="61.50" y2="397.90" stroke="#1e1e1e" stroke-width="1.1"/>
<line x1="61.00" y1="397.40" x2="118.60" y2="397.40" stroke="#1e1e1e" stroke-width="1.15"/>
<line x1="58.30" y1="325.70" x2="61.50" y2="325.70" stroke="#1e1e1e" stroke-width="0.9"/>
<line x1="58.30" y1="345.30" x2="61.50" y2="345.30" stroke="#1e1e1e" stroke-width="0.9"/>
<line x1="58.30" y1="364.90" x2="61.50" y2="364.90" stroke="#1e1e1e" stroke-width="0.9"/>
<line x1="58.30" y1="384.50" x2="61.50" y2="384.50" stroke="#1e1e1e" stroke-width="0.9"/>
<line x1="61.50" y1="397.10" x2="61.50" y2="400.00" stroke="#1e1e1e" stroke-width="0.9"/>
<g transform="translate(65.00,402.30) rotate(-90) scale(0.78,1)"><text x="-18.06" y="0" font-size="9.6" fill="#2b2b2b" stroke="#2b2b2b" stroke-width="0.12">10<tspan dy="-3.4" font-size="6.3">−5</tspan></text></g>
<line x1="71.00" y1="397.10" x2="71.00" y2="400.00" stroke="#1e1e1e" stroke-width="0.9"/>
<g transform="translate(74.50,402.30) rotate(-90) scale(0.78,1)"><text x="-18.06" y="0" font-size="9.6" fill="#2b2b2b" stroke="#2b2b2b" stroke-width="0.12">10<tspan dy="-3.4" font-size="6.3">−4</tspan></text></g>
<line x1="80.50" y1="397.10" x2="80.50" y2="400.00" stroke="#1e1e1e" stroke-width="0.9"/>
<g transform="translate(84.00,402.30) rotate(-90) scale(0.78,1)"><text x="-18.06" y="0" font-size="9.6" fill="#2b2b2b" stroke="#2b2b2b" stroke-width="0.12">10<tspan dy="-3.4" font-size="6.3">−3</tspan></text></g>
<line x1="90.00" y1="397.10" x2="90.00" y2="400.00" stroke="#1e1e1e" stroke-width="0.9"/>
<g transform="translate(93.50,402.30) rotate(-90) scale(0.78,1)"><text x="-18.06" y="0" font-size="9.6" fill="#2b2b2b" stroke="#2b2b2b" stroke-width="0.12">10<tspan dy="-3.4" font-size="6.3">−2</tspan></text></g>
<line x1="99.50" y1="397.10" x2="99.50" y2="400.00" stroke="#1e1e1e" stroke-width="0.9"/>
<g transform="translate(103.00,402.30) rotate(-90) scale(0.78,1)"><text x="-18.06" y="0" font-size="9.6" fill="#2b2b2b" stroke="#2b2b2b" stroke-width="0.12">10<tspan dy="-3.4" font-size="6.3">−1</tspan></text></g>
<line x1="109.00" y1="397.10" x2="109.00" y2="400.00" stroke="#1e1e1e" stroke-width="0.9"/>
<g transform="translate(112.50,402.30) rotate(-90) scale(0.78,1)"><text x="-14.38" y="0" font-size="9.6" fill="#2b2b2b" stroke="#2b2b2b" stroke-width="0.12">10<tspan dy="-3.4" font-size="6.3">0</tspan></text></g>
<line x1="118.50" y1="397.10" x2="118.50" y2="400.00" stroke="#1e1e1e" stroke-width="0.9"/>
<g transform="translate(122.00,402.30) rotate(-90) scale(0.78,1)"><text x="-14.38" y="0" font-size="9.6" fill="#2b2b2b" stroke="#2b2b2b" stroke-width="0.12">10<tspan dy="-3.4" font-size="6.3">1</tspan></text></g>
<text x="49.80" y="428.20" font-size="10.1" textLength="81.99" lengthAdjust="spacingAndGlyphs" fill="#2b2b2b" stroke="#2b2b2b" stroke-width="0.22">Relative gene expression</text>
<text x="50.80" y="439.50" font-size="10.1" textLength="78.80" lengthAdjust="spacingAndGlyphs" fill="#2b2b2b" stroke="#2b2b2b" stroke-width="0.22">(normalized by GAPDH)</text>
<line x1="79.30" y1="331.10" x2="79.30" y2="340.20" stroke="#333" stroke-width="1.0"/>
<text x="65.30" y="337.00" font-size="7.9" textLength="10.81" lengthAdjust="spacingAndGlyphs" fill="#2b2b2b" stroke="#2b2b2b" stroke-width="0.12">n.s.</text>
<line x1="79.30" y1="370.20" x2="79.30" y2="379.60" stroke="#333" stroke-width="1.0"/>
<circle cx="75.30" cy="374.50" r="1.0" fill="#333"/>
<text x="202.90" y="303.80" font-size="10.2" textLength="28.19" lengthAdjust="spacingAndGlyphs" fill="#2b2b2b" stroke="#2b2b2b" stroke-width="0.12">CXCL2</text>
<text x="138.90" y="323.50" font-size="8.1" textLength="34.18" lengthAdjust="spacingAndGlyphs" fill="#2b2b2b" stroke="#2b2b2b" stroke-width="0.12">NeuPs-XL</text>
<text x="138.90" y="333.10" font-size="8.1" textLength="42.50" lengthAdjust="spacingAndGlyphs" fill="#2b2b2b" stroke="#2b2b2b" stroke-width="0.12">S. aureus (–)</text>
<text x="138.90" y="343.10" font-size="8.1" textLength="34.18" lengthAdjust="spacingAndGlyphs" fill="#2b2b2b" stroke="#2b2b2b" stroke-width="0.12">NeuPs-XL</text>
<text x="138.90" y="352.70" font-size="8.1" textLength="43.99" lengthAdjust="spacingAndGlyphs" fill="#2b2b2b" stroke="#2b2b2b" stroke-width="0.12">S. aureus (+)</text>
<text x="138.90" y="362.70" font-size="8.1" textLength="35.28" lengthAdjust="spacingAndGlyphs" fill="#2b2b2b" stroke="#2b2b2b" stroke-width="0.12">NeuCs-XL</text>
<text x="138.90" y="372.30" font-size="8.1" textLength="42.50" lengthAdjust="spacingAndGlyphs" fill="#2b2b2b" stroke="#2b2b2b" stroke-width="0.12">S. aureus (–)</text>
<text x="138.90" y="382.30" font-size="8.1" textLength="35.28" lengthAdjust="spacingAndGlyphs" fill="#2b2b2b" stroke="#2b2b2b" stroke-width="0.12">NeuCs-XL</text>
<text x="138.90" y="391.90" font-size="8.1" textLength="43.99" lengthAdjust="spacingAndGlyphs" fill="#2b2b2b" stroke="#2b2b2b" stroke-width="0.12">S. aureus (+)</text>
<rect x="219.00" y="319.05" width="7.50" height="12.7" fill="#8391c3" stroke="#6f7fb7" stroke-width="0.5"/>
<rect x="221.10" y="338.65" width="5.40" height="12.7" fill="#ea8a7c" stroke="#de6f62" stroke-width="0.5"/>
<rect x="226.50" y="358.25" width="9.00" height="12.7" fill="#8c8c8c" stroke="#7a7a7a" stroke-width="0.5"/>
<rect x="226.50" y="377.85" width="14.20" height="12.7" fill="#a6dca2" stroke="#8fd08c" stroke-width="0.5"/>
<line x1="236.00" y1="312.70" x2="236.00" y2="396.80" stroke="#222" stroke-width="0.8" stroke-dasharray="0.8 0.8"/>
<line x1="226.50" y1="312.70" x2="226.50" y2="396.80" stroke="#3a3a3a" stroke-width="0.9"/>
<circle cx="206.30" cy="325.20" r="0.95" fill="#0d4d8c"/>
<circle cx="219.30" cy="325.20" r="0.95" fill="#0d4d8c"/>
<circle cx="221.80" cy="325.20" r="0.95" fill="#0d4d8c"/>
<circle cx="217.40" cy="345.00" r="0.95" fill="#d0101e"/>
<circle cx="222.20" cy="342.70" r="0.95" fill="#d0101e"/>
<circle cx="222.20" cy="346.90" r="0.95" fill="#d0101e"/>
<path d="M234.60,362.80 L236.40,362.80 L235.50,361.10 Z" fill="#111111"/>
<path d="M232.80,366.30 L234.60,366.30 L233.70,364.60 Z" fill="#111111"/>
<path d="M235.10,367.80 L236.90,367.80 L236.00,366.10 Z" fill="#111111"/>
<path d="M240.40,380.90 L241.50,382.00 L240.40,383.10 L239.30,382.00 Z" fill="#20b040"/>
<path d="M238.90,384.90 L240.00,386.00 L238.90,387.10 L237.80,386.00 Z" fill="#20b040"/>
<path d="M242.60,384.90 L243.70,386.00 L242.60,387.10 L241.50,386.00 Z" fill="#20b040"/>
<line x1="188.40" y1="312.70" x2="188.40" y2="397.60" stroke="#1e1e1e" stroke-width="1.1"/>
<line x1="187.90" y1="397.10" x2="245.50" y2="397.10" stroke="#1e1e1e" stroke-width="1.15"/>
<line x1="185.20" y1="325.40" x2="188.40" y2="325.40" stroke="#1e1e1e" stroke-width="0.9"/>
<line x1="185.20" y1="345.00" x2="188.40" y2="345.00" stroke="#1e1e1e" stroke-width="0.9"/>
<line x1="185.20" y1="364.60" x2="188.40" y2="364.60" stroke="#1e1e1e" stroke-width="0.9"/>
<line x1="185.20" y1="384.20" x2="188.40" y2="384.20" stroke="#1e1e1e" stroke-width="0.9"/>
<line x1="188.40" y1="396.80" x2="188.40" y2="399.70" stroke="#1e1e1e" stroke-width="0.9"/>
<g transform="translate(191.90,402.00) rotate(-90) scale(0.78,1)"><text x="-18.06" y="0" font-size="9.6" fill="#2b2b2b" stroke="#2b2b2b" stroke-width="0.12">10<tspan dy="-3.4" font-size="6.3">−5</tspan></text></g>
<line x1="197.90" y1="396.80" x2="197.90" y2="399.70" stroke="#1e1e1e" stroke-width="0.9"/>
<g transform="translate(201.40,402.00) rotate(-90) scale(0.78,1)"><text x="-18.06" y="0" font-size="9.6" fill="#2b2b2b" stroke="#2b2b2b" stroke-width="0.12">10<tspan dy="-3.4" font-size="6.3">−4</tspan></text></g>
<line x1="207.40" y1="396.80" x2="207.40" y2="399.70" stroke="#1e1e1e" stroke-width="0.9"/>
<g transform="translate(210.90,402.00) rotate(-90) scale(0.78,1)"><text x="-18.06" y="0" font-size="9.6" fill="#2b2b2b" stroke="#2b2b2b" stroke-width="0.12">10<tspan dy="-3.4" font-size="6.3">−3</tspan></text></g>
<line x1="216.90" y1="396.80" x2="216.90" y2="399.70" stroke="#1e1e1e" stroke-width="0.9"/>
<g transform="translate(220.40,402.00) rotate(-90) scale(0.78,1)"><text x="-18.06" y="0" font-size="9.6" fill="#2b2b2b" stroke="#2b2b2b" stroke-width="0.12">10<tspan dy="-3.4" font-size="6.3">−2</tspan></text></g>
<line x1="226.40" y1="396.80" x2="226.40" y2="399.70" stroke="#1e1e1e" stroke-width="0.9"/>
<g transform="translate(229.90,402.00) rotate(-90) scale(0.78,1)"><text x="-18.06" y="0" font-size="9.6" fill="#2b2b2b" stroke="#2b2b2b" stroke-width="0.12">10<tspan dy="-3.4" font-size="6.3">−1</tspan></text></g>
<line x1="235.90" y1="396.80" x2="235.90" y2="399.70" stroke="#1e1e1e" stroke-width="0.9"/>
<g transform="translate(239.40,402.00) rotate(-90) scale(0.78,1)"><text x="-14.38" y="0" font-size="9.6" fill="#2b2b2b" stroke="#2b2b2b" stroke-width="0.12">10<tspan dy="-3.4" font-size="6.3">0</tspan></text></g>
<line x1="245.40" y1="396.80" x2="245.40" y2="399.70" stroke="#1e1e1e" stroke-width="0.9"/>
<g transform="translate(248.90,402.00) rotate(-90) scale(0.78,1)"><text x="-14.38" y="0" font-size="9.6" fill="#2b2b2b" stroke="#2b2b2b" stroke-width="0.12">10<tspan dy="-3.4" font-size="6.3">1</tspan></text></g>
<text x="176.70" y="427.90" font-size="10.1" textLength="81.99" lengthAdjust="spacingAndGlyphs" fill="#2b2b2b" stroke="#2b2b2b" stroke-width="0.22">Relative gene expression</text>
<text x="177.70" y="439.20" font-size="10.1" textLength="78.80" lengthAdjust="spacingAndGlyphs" fill="#2b2b2b" stroke="#2b2b2b" stroke-width="0.22">(normalized by GAPDH)</text>
<line x1="208.50" y1="330.60" x2="208.50" y2="339.50" stroke="#333" stroke-width="1.0"/>
<text x="195.50" y="336.30" font-size="7.9" textLength="10.81" lengthAdjust="spacingAndGlyphs" fill="#2b2b2b" stroke="#2b2b2b" stroke-width="0.12">n.s.</text>
<line x1="208.50" y1="369.70" x2="208.50" y2="378.60" stroke="#333" stroke-width="1.0"/>
<circle cx="204.70" cy="373.70" r="1.0" fill="#333"/>
<text x="329.25" y="302.10" font-size="10.2" textLength="28.89" lengthAdjust="spacingAndGlyphs" fill="#2b2b2b" stroke="#2b2b2b" stroke-width="0.12">CXCL8</text>
<text x="265.60" y="321.80" font-size="8.1" textLength="34.18" lengthAdjust="spacingAndGlyphs" fill="#2b2b2b" stroke="#2b2b2b" stroke-width="0.12">NeuPs-XL</text>
<text x="265.60" y="331.40" font-size="8.1" textLength="42.50" lengthAdjust="spacingAndGlyphs" fill="#2b2b2b" stroke="#2b2b2b" stroke-width="0.12">S. aureus (–)</text>
<text x="265.60" y="341.40" font-size="8.1" textLength="34.18" lengthAdjust="spacingAndGlyphs" fill="#2b2b2b" stroke="#2b2b2b" stroke-width="0.12">NeuPs-XL</text>
<text x="265.60" y="351.00" font-size="8.1" textLength="43.99" lengthAdjust="spacingAndGlyphs" fill="#2b2b2b" stroke="#2b2b2b" stroke-width="0.12">S. aureus (+)</text>
<text x="265.60" y="361.00" font-size="8.1" textLength="35.28" lengthAdjust="spacingAndGlyphs" fill="#2b2b2b" stroke="#2b2b2b" stroke-width="0.12">NeuCs-XL</text>
<text x="265.60" y="370.60" font-size="8.1" textLength="42.50" lengthAdjust="spacingAndGlyphs" fill="#2b2b2b" stroke="#2b2b2b" stroke-width="0.12">S. aureus (–)</text>
<text x="265.60" y="380.60" font-size="8.1" textLength="35.28" lengthAdjust="spacingAndGlyphs" fill="#2b2b2b" stroke="#2b2b2b" stroke-width="0.12">NeuCs-XL</text>
<text x="265.60" y="390.20" font-size="8.1" textLength="43.99" lengthAdjust="spacingAndGlyphs" fill="#2b2b2b" stroke="#2b2b2b" stroke-width="0.12">S. aureus (+)</text>
<rect x="340.10" y="317.35" width="13.10" height="12.7" fill="#8391c3" stroke="#6f7fb7" stroke-width="0.5"/>
<rect x="345.30" y="336.95" width="7.90" height="12.7" fill="#ea8a7c" stroke="#de6f62" stroke-width="0.5"/>
<rect x="353.20" y="356.55" width="9.00" height="12.7" fill="#8c8c8c" stroke="#7a7a7a" stroke-width="0.5"/>
<rect x="353.20" y="376.15" width="14.90" height="12.7" fill="#a6dca2" stroke="#8fd08c" stroke-width="0.5"/>
<line x1="362.70" y1="311.00" x2="362.70" y2="395.10" stroke="#222" stroke-width="0.8" stroke-dasharray="0.8 0.8"/>
<line x1="353.20" y1="311.00" x2="353.20" y2="395.10" stroke="#3a3a3a" stroke-width="0.9"/>
<circle cx="329.80" cy="324.00" r="0.95" fill="#0d4d8c"/>
<circle cx="339.80" cy="324.00" r="0.95" fill="#0d4d8c"/>
<circle cx="343.40" cy="324.00" r="0.95" fill="#0d4d8c"/>
<circle cx="345.00" cy="341.30" r="0.95" fill="#d0101e"/>
<circle cx="343.10" cy="345.40" r="0.95" fill="#d0101e"/>
<circle cx="346.50" cy="345.40" r="0.95" fill="#d0101e"/>
<path d="M361.60,362.00 L363.40,362.00 L362.50,360.30 Z" fill="#111111"/>
<path d="M359.60,363.60 L361.40,363.60 L360.50,361.90 Z" fill="#111111"/>
<path d="M362.10,366.10 L363.90,366.10 L363.00,364.40 Z" fill="#111111"/>
<path d="M368.60,378.90 L369.70,380.00 L368.60,381.10 L367.50,380.00 Z" fill="#20b040"/>
<path d="M365.90,381.20 L367.00,382.30 L365.90,383.40 L364.80,382.30 Z" fill="#20b040"/>
<path d="M369.60,382.90 L370.70,384.00 L369.60,385.10 L368.50,384.00 Z" fill="#20b040"/>
<line x1="315.10" y1="311.00" x2="315.10" y2="395.90" stroke="#1e1e1e" stroke-width="1.1"/>
<line x1="314.60" y1="395.40" x2="372.20" y2="395.40" stroke="#1e1e1e" stroke-width="1.15"/>
<line x1="311.90" y1="323.70" x2="315.10" y2="323.70" stroke="#1e1e1e" stroke-width="0.9"/>
<line x1="311.90" y1="343.30" x2="315.10" y2="343.30" stroke="#1e1e1e" stroke-width="0.9"/>
<line x1="311.90" y1="362.90" x2="315.10" y2="362.90" stroke="#1e1e1e" stroke-width="0.9"/>
<line x1="311.90" y1="382.50" x2="315.10" y2="382.50" stroke="#1e1e1e" stroke-width="0.9"/>
<line x1="315.10" y1="395.10" x2="315.10" y2="398.00" stroke="#1e1e1e" stroke-width="0.9"/>
<g transform="translate(318.60,400.30) rotate(-90) scale(0.78,1)"><text x="-18.06" y="0" font-size="9.6" fill="#2b2b2b" stroke="#2b2b2b" stroke-width="0.12">10<tspan dy="-3.4" font-size="6.3">−5</tspan></text></g>
<line x1="324.60" y1="395.10" x2="324.60" y2="398.00" stroke="#1e1e1e" stroke-width="0.9"/>
<g transform="translate(328.10,400.30) rotate(-90) scale(0.78,1)"><text x="-18.06" y="0" font-size="9.6" fill="#2b2b2b" stroke="#2b2b2b" stroke-width="0.12">10<tspan dy="-3.4" font-size="6.3">−4</tspan></text></g>
<line x1="334.10" y1="395.10" x2="334.10" y2="398.00" stroke="#1e1e1e" stroke-width="0.9"/>
<g transform="translate(337.60,400.30) rotate(-90) scale(0.78,1)"><text x="-18.06" y="0" font-size="9.6" fill="#2b2b2b" stroke="#2b2b2b" stroke-width="0.12">10<tspan dy="-3.4" font-size="6.3">−3</tspan></text></g>
<line x1="343.60" y1="395.10" x2="343.60" y2="398.00" stroke="#1e1e1e" stroke-width="0.9"/>
<g transform="translate(347.10,400.30) rotate(-90) scale(0.78,1)"><text x="-18.06" y="0" font-size="9.6" fill="#2b2b2b" stroke="#2b2b2b" stroke-width="0.12">10<tspan dy="-3.4" font-size="6.3">−2</tspan></text></g>
<line x1="353.10" y1="395.10" x2="353.10" y2="398.00" stroke="#1e1e1e" stroke-width="0.9"/>
<g transform="translate(356.60,400.30) rotate(-90) scale(0.78,1)"><text x="-18.06" y="0" font-size="9.6" fill="#2b2b2b" stroke="#2b2b2b" stroke-width="0.12">10<tspan dy="-3.4" font-size="6.3">−1</tspan></text></g>
<line x1="362.60" y1="395.10" x2="362.60" y2="398.00" stroke="#1e1e1e" stroke-width="0.9"/>
<g transform="translate(366.10,400.30) rotate(-90) scale(0.78,1)"><text x="-14.38" y="0" font-size="9.6" fill="#2b2b2b" stroke="#2b2b2b" stroke-width="0.12">10<tspan dy="-3.4" font-size="6.3">0</tspan></text></g>
<line x1="372.10" y1="395.10" x2="372.10" y2="398.00" stroke="#1e1e1e" stroke-width="0.9"/>
<g transform="translate(375.60,400.30) rotate(-90) scale(0.78,1)"><text x="-14.38" y="0" font-size="9.6" fill="#2b2b2b" stroke="#2b2b2b" stroke-width="0.12">10<tspan dy="-3.4" font-size="6.3">1</tspan></text></g>
<text x="303.40" y="426.20" font-size="10.1" textLength="81.99" lengthAdjust="spacingAndGlyphs" fill="#2b2b2b" stroke="#2b2b2b" stroke-width="0.22">Relative gene expression</text>
<text x="304.40" y="437.50" font-size="10.1" textLength="78.80" lengthAdjust="spacingAndGlyphs" fill="#2b2b2b" stroke="#2b2b2b" stroke-width="0.22">(normalized by GAPDH)</text>
<line x1="336.00" y1="331.10" x2="336.00" y2="339.50" stroke="#333" stroke-width="1.0"/>
<text x="321.90" y="336.40" font-size="7.9" textLength="10.81" lengthAdjust="spacingAndGlyphs" fill="#2b2b2b" stroke="#2b2b2b" stroke-width="0.12">n.s.</text>
<line x1="336.00" y1="370.20" x2="336.00" y2="379.00" stroke="#333" stroke-width="1.0"/>
<circle cx="328.30" cy="373.90" r="1.0" fill="#333"/>
<circle cx="331.70" cy="373.90" r="1.0" fill="#333"/>
<text x="452.95" y="301.40" font-size="10.2" textLength="34.70" lengthAdjust="spacingAndGlyphs" fill="#2b2b2b" stroke="#2b2b2b" stroke-width="0.12">CXCL10</text>
<text x="392.20" y="320.90" font-size="8.1" textLength="34.18" lengthAdjust="spacingAndGlyphs" fill="#2b2b2b" stroke="#2b2b2b" stroke-width="0.12">NeuPs-XL</text>
<text x="392.20" y="330.50" font-size="8.1" textLength="42.50" lengthAdjust="spacingAndGlyphs" fill="#2b2b2b" stroke="#2b2b2b" stroke-width="0.12">S. aureus (–)</text>
<text x="392.20" y="340.50" font-size="8.1" textLength="34.18" lengthAdjust="spacingAndGlyphs" fill="#2b2b2b" stroke="#2b2b2b" stroke-width="0.12">NeuPs-XL</text>
<text x="392.20" y="350.10" font-size="8.1" textLength="43.99" lengthAdjust="spacingAndGlyphs" fill="#2b2b2b" stroke="#2b2b2b" stroke-width="0.12">S. aureus (+)</text>
<text x="392.20" y="360.10" font-size="8.1" textLength="35.28" lengthAdjust="spacingAndGlyphs" fill="#2b2b2b" stroke="#2b2b2b" stroke-width="0.12">NeuCs-XL</text>
<text x="392.20" y="369.70" font-size="8.1" textLength="42.50" lengthAdjust="spacingAndGlyphs" fill="#2b2b2b" stroke="#2b2b2b" stroke-width="0.12">S. aureus (–)</text>
<text x="392.20" y="379.70" font-size="8.1" textLength="35.28" lengthAdjust="spacingAndGlyphs" fill="#2b2b2b" stroke="#2b2b2b" stroke-width="0.12">NeuCs-XL</text>
<text x="392.20" y="389.30" font-size="8.1" textLength="43.99" lengthAdjust="spacingAndGlyphs" fill="#2b2b2b" stroke="#2b2b2b" stroke-width="0.12">S. aureus (+)</text>
<rect x="479.80" y="316.45" width="2.80" height="12.7" fill="#8391c3" stroke="#6f7fb7" stroke-width="0.5"/>
<rect x="479.80" y="336.05" width="8.00" height="12.7" fill="#ea8a7c" stroke="#de6f62" stroke-width="0.5"/>
<rect x="479.80" y="355.65" width="9.20" height="12.7" fill="#8c8c8c" stroke="#7a7a7a" stroke-width="0.5"/>
<rect x="479.80" y="375.25" width="9.70" height="12.7" fill="#a6dca2" stroke="#8fd08c" stroke-width="0.5"/>
<line x1="489.30" y1="310.10" x2="489.30" y2="394.20" stroke="#222" stroke-width="0.8" stroke-dasharray="0.8 0.8"/>
<line x1="479.80" y1="310.10" x2="479.80" y2="394.20" stroke="#3a3a3a" stroke-width="0.9"/>
<circle cx="470.40" cy="323.30" r="0.95" fill="#0d4d8c"/>
<circle cx="481.10" cy="323.30" r="0.95" fill="#0d4d8c"/>
<circle cx="486.00" cy="323.30" r="0.95" fill="#0d4d8c"/>
<circle cx="488.20" cy="340.70" r="0.95" fill="#d0101e"/>
<circle cx="484.80" cy="342.70" r="0.95" fill="#d0101e"/>
<circle cx="489.20" cy="345.00" r="0.95" fill="#d0101e"/>
<path d="M489.10,360.90 L490.90,360.90 L490.00,359.20 Z" fill="#111111"/>
<path d="M483.60,363.20 L485.40,363.20 L484.50,361.50 Z" fill="#111111"/>
<path d="M489.10,365.70 L490.90,365.70 L490.00,364.00 Z" fill="#111111"/>
<path d="M490.00,376.30 L491.10,377.40 L490.00,378.50 L488.90,377.40 Z" fill="#20b040"/>
<path d="M491.50,380.70 L492.60,381.80 L491.50,382.90 L490.40,381.80 Z" fill="#20b040"/>
<path d="M490.00,384.90 L491.10,386.00 L490.00,387.10 L488.90,386.00 Z" fill="#20b040"/>
<line x1="441.70" y1="310.10" x2="441.70" y2="395.00" stroke="#1e1e1e" stroke-width="1.1"/>
<line x1="441.20" y1="394.50" x2="498.80" y2="394.50" stroke="#1e1e1e" stroke-width="1.15"/>
<line x1="438.50" y1="322.80" x2="441.70" y2="322.80" stroke="#1e1e1e" stroke-width="0.9"/>
<line x1="438.50" y1="342.40" x2="441.70" y2="342.40" stroke="#1e1e1e" stroke-width="0.9"/>
<line x1="438.50" y1="362.00" x2="441.70" y2="362.00" stroke="#1e1e1e" stroke-width="0.9"/>
<line x1="438.50" y1="381.60" x2="441.70" y2="381.60" stroke="#1e1e1e" stroke-width="0.9"/>
<line x1="441.70" y1="394.20" x2="441.70" y2="397.10" stroke="#1e1e1e" stroke-width="0.9"/>
<g transform="translate(445.20,399.40) rotate(-90) scale(0.78,1)"><text x="-18.06" y="0" font-size="9.6" fill="#2b2b2b" stroke="#2b2b2b" stroke-width="0.12">10<tspan dy="-3.4" font-size="6.3">−5</tspan></text></g>
<line x1="451.20" y1="394.20" x2="451.20" y2="397.10" stroke="#1e1e1e" stroke-width="0.9"/>
<g transform="translate(454.70,399.40) rotate(-90) scale(0.78,1)"><text x="-18.06" y="0" font-size="9.6" fill="#2b2b2b" stroke="#2b2b2b" stroke-width="0.12">10<tspan dy="-3.4" font-size="6.3">−4</tspan></text></g>
<line x1="460.70" y1="394.20" x2="460.70" y2="397.10" stroke="#1e1e1e" stroke-width="0.9"/>
<g transform="translate(464.20,399.40) rotate(-90) scale(0.78,1)"><text x="-18.06" y="0" font-size="9.6" fill="#2b2b2b" stroke="#2b2b2b" stroke-width="0.12">10<tspan dy="-3.4" font-size="6.3">−3</tspan></text></g>
<line x1="470.20" y1="394.20" x2="470.20" y2="397.10" stroke="#1e1e1e" stroke-width="0.9"/>
<g transform="translate(473.70,399.40) rotate(-90) scale(0.78,1)"><text x="-18.06" y="0" font-size="9.6" fill="#2b2b2b" stroke="#2b2b2b" stroke-width="0.12">10<tspan dy="-3.4" font-size="6.3">−2</tspan></text></g>
<line x1="479.70" y1="394.20" x2="479.70" y2="397.10" stroke="#1e1e1e" stroke-width="0.9"/>
<g transform="translate(483.20,399.40) rotate(-90) scale(0.78,1)"><text x="-18.06" y="0" font-size="9.6" fill="#2b2b2b" stroke="#2b2b2b" stroke-width="0.12">10<tspan dy="-3.4" font-size="6.3">−1</tspan></text></g>
<line x1="489.20" y1="394.20" x2="489.20" y2="397.10" stroke="#1e1e1e" stroke-width="0.9"/>
<g transform="translate(492.70,399.40) rotate(-90) scale(0.78,1)"><text x="-14.38" y="0" font-size="9.6" fill="#2b2b2b" stroke="#2b2b2b" stroke-width="0.12">10<tspan dy="-3.4" font-size="6.3">0</tspan></text></g>
<line x1="498.70" y1="394.20" x2="498.70" y2="397.10" stroke="#1e1e1e" stroke-width="0.9"/>
<g transform="translate(502.20,399.40) rotate(-90) scale(0.78,1)"><text x="-14.38" y="0" font-size="9.6" fill="#2b2b2b" stroke="#2b2b2b" stroke-width="0.12">10<tspan dy="-3.4" font-size="6.3">1</tspan></text></g>
<text x="430.00" y="425.30" font-size="10.1" textLength="81.99" lengthAdjust="spacingAndGlyphs" fill="#2b2b2b" stroke="#2b2b2b" stroke-width="0.22">Relative gene expression</text>
<text x="431.00" y="436.60" font-size="10.1" textLength="78.80" lengthAdjust="spacingAndGlyphs" fill="#2b2b2b" stroke="#2b2b2b" stroke-width="0.22">(normalized by GAPDH)</text>
<line x1="465.40" y1="328.00" x2="465.40" y2="337.30" stroke="#333" stroke-width="1.0"/>
<text x="452.60" y="333.60" font-size="7.9" textLength="10.81" lengthAdjust="spacingAndGlyphs" fill="#2b2b2b" stroke="#2b2b2b" stroke-width="0.12">n.s.</text>
<line x1="465.40" y1="368.00" x2="465.40" y2="376.70" stroke="#333" stroke-width="1.0"/>
<text x="452.60" y="373.80" font-size="7.9" textLength="10.81" lengthAdjust="spacingAndGlyphs" fill="#2b2b2b" stroke="#2b2b2b" stroke-width="0.12">n.s.</text>
<text x="80.65" y="465.40" font-size="10.2" textLength="18.87" lengthAdjust="spacingAndGlyphs" fill="#2b2b2b" stroke="#2b2b2b" stroke-width="0.12">IL1A</text>
<text x="12.00" y="484.50" font-size="8.1" textLength="34.18" lengthAdjust="spacingAndGlyphs" fill="#2b2b2b" stroke="#2b2b2b" stroke-width="0.12">NeuPs-XL</text>
<text x="12.00" y="494.10" font-size="8.1" textLength="42.50" lengthAdjust="spacingAndGlyphs" fill="#2b2b2b" stroke="#2b2b2b" stroke-width="0.12">S. aureus (–)</text>
<text x="12.00" y="504.10" font-size="8.1" textLength="34.18" lengthAdjust="spacingAndGlyphs" fill="#2b2b2b" stroke="#2b2b2b" stroke-width="0.12">NeuPs-XL</text>
<text x="12.00" y="513.70" font-size="8.1" textLength="43.99" lengthAdjust="spacingAndGlyphs" fill="#2b2b2b" stroke="#2b2b2b" stroke-width="0.12">S. aureus (+)</text>
<text x="12.00" y="523.70" font-size="8.1" textLength="35.28" lengthAdjust="spacingAndGlyphs" fill="#2b2b2b" stroke="#2b2b2b" stroke-width="0.12">NeuCs-XL</text>
<text x="12.00" y="533.30" font-size="8.1" textLength="42.50" lengthAdjust="spacingAndGlyphs" fill="#2b2b2b" stroke="#2b2b2b" stroke-width="0.12">S. aureus (–)</text>
<text x="12.00" y="543.30" font-size="8.1" textLength="35.28" lengthAdjust="spacingAndGlyphs" fill="#2b2b2b" stroke="#2b2b2b" stroke-width="0.12">NeuCs-XL</text>
<text x="12.00" y="552.90" font-size="8.1" textLength="43.99" lengthAdjust="spacingAndGlyphs" fill="#2b2b2b" stroke="#2b2b2b" stroke-width="0.12">S. aureus (+)</text>
<rect x="86.10" y="480.05" width="13.50" height="12.7" fill="#8391c3" stroke="#6f7fb7" stroke-width="0.5"/>
<rect x="86.70" y="499.65" width="12.90" height="12.7" fill="#ea8a7c" stroke="#de6f62" stroke-width="0.5"/>
<rect x="99.60" y="519.25" width="9.20" height="12.7" fill="#8c8c8c" stroke="#7a7a7a" stroke-width="0.5"/>
<rect x="99.60" y="538.85" width="9.60" height="12.7" fill="#a6dca2" stroke="#8fd08c" stroke-width="0.5"/>
<line x1="109.10" y1="473.70" x2="109.10" y2="557.80" stroke="#222" stroke-width="0.8" stroke-dasharray="0.8 0.8"/>
<line x1="99.60" y1="473.70" x2="99.60" y2="557.80" stroke="#3a3a3a" stroke-width="0.9"/>
<circle cx="71.30" cy="486.50" r="0.95" fill="#0d4d8c"/>
<circle cx="87.40" cy="484.50" r="0.95" fill="#0d4d8c"/>
<circle cx="88.20" cy="488.40" r="0.95" fill="#0d4d8c"/>
<circle cx="86.70" cy="503.90" r="0.95" fill="#d0101e"/>
<circle cx="84.50" cy="505.70" r="0.95" fill="#d0101e"/>
<circle cx="87.60" cy="508.00" r="0.95" fill="#d0101e"/>
<path d="M107.90,526.60 L109.70,526.60 L108.80,524.90 Z" fill="#111111"/>
<path d="M109.20,541.90 L110.30,543.00 L109.20,544.10 L108.10,543.00 Z" fill="#20b040"/>
<path d="M111.50,543.80 L112.60,544.90 L111.50,546.00 L110.40,544.90 Z" fill="#20b040"/>
<path d="M108.50,545.60 L109.60,546.70 L108.50,547.80 L107.40,546.70 Z" fill="#20b040"/>
<line x1="61.50" y1="473.70" x2="61.50" y2="558.60" stroke="#1e1e1e" stroke-width="1.1"/>
<line x1="61.00" y1="558.10" x2="118.60" y2="558.10" stroke="#1e1e1e" stroke-width="1.15"/>
<line x1="58.30" y1="486.40" x2="61.50" y2="486.40" stroke="#1e1e1e" stroke-width="0.9"/>
<line x1="58.30" y1="506.00" x2="61.50" y2="506.00" stroke="#1e1e1e" stroke-width="0.9"/>
<line x1="58.30" y1="525.60" x2="61.50" y2="525.60" stroke="#1e1e1e" stroke-width="0.9"/>
<line x1="58.30" y1="545.20" x2="61.50" y2="545.20" stroke="#1e1e1e" stroke-width="0.9"/>
<line x1="61.50" y1="557.80" x2="61.50" y2="560.70" stroke="#1e1e1e" stroke-width="0.9"/>
<g transform="translate(65.00,563.00) rotate(-90) scale(0.78,1)"><text x="-18.06" y="0" font-size="9.6" fill="#2b2b2b" stroke="#2b2b2b" stroke-width="0.12">10<tspan dy="-3.4" font-size="6.3">−5</tspan></text></g>
<line x1="71.00" y1="557.80" x2="71.00" y2="560.70" stroke="#1e1e1e" stroke-width="0.9"/>
<g transform="translate(74.50,563.00) rotate(-90) scale(0.78,1)"><text x="-18.06" y="0" font-size="9.6" fill="#2b2b2b" stroke="#2b2b2b" stroke-width="0.12">10<tspan dy="-3.4" font-size="6.3">−4</tspan></text></g>
<line x1="80.50" y1="557.80" x2="80.50" y2="560.70" stroke="#1e1e1e" stroke-width="0.9"/>
<g transform="translate(84.00,563.00) rotate(-90) scale(0.78,1)"><text x="-18.06" y="0" font-size="9.6" fill="#2b2b2b" stroke="#2b2b2b" stroke-width="0.12">10<tspan dy="-3.4" font-size="6.3">−3</tspan></text></g>
<line x1="90.00" y1="557.80" x2="90.00" y2="560.70" stroke="#1e1e1e" stroke-width="0.9"/>
<g transform="translate(93.50,563.00) rotate(-90) scale(0.78,1)"><text x="-18.06" y="0" font-size="9.6" fill="#2b2b2b" stroke="#2b2b2b" stroke-width="0.12">10<tspan dy="-3.4" font-size="6.3">−2</tspan></text></g>
<line x1="99.50" y1="557.80" x2="99.50" y2="560.70" stroke="#1e1e1e" stroke-width="0.9"/>
<g transform="translate(103.00,563.00) rotate(-90) scale(0.78,1)"><text x="-18.06" y="0" font-size="9.6" fill="#2b2b2b" stroke="#2b2b2b" stroke-width="0.12">10<tspan dy="-3.4" font-size="6.3">−1</tspan></text></g>
<line x1="109.00" y1="557.80" x2="109.00" y2="560.70" stroke="#1e1e1e" stroke-width="0.9"/>
<g transform="translate(112.50,563.00) rotate(-90) scale(0.78,1)"><text x="-14.38" y="0" font-size="9.6" fill="#2b2b2b" stroke="#2b2b2b" stroke-width="0.12">10<tspan dy="-3.4" font-size="6.3">0</tspan></text></g>
<line x1="118.50" y1="557.80" x2="118.50" y2="560.70" stroke="#1e1e1e" stroke-width="0.9"/>
<g transform="translate(122.00,563.00) rotate(-90) scale(0.78,1)"><text x="-14.38" y="0" font-size="9.6" fill="#2b2b2b" stroke="#2b2b2b" stroke-width="0.12">10<tspan dy="-3.4" font-size="6.3">1</tspan></text></g>
<text x="49.80" y="588.90" font-size="10.1" textLength="81.99" lengthAdjust="spacingAndGlyphs" fill="#2b2b2b" stroke="#2b2b2b" stroke-width="0.22">Relative gene expression</text>
<text x="50.80" y="600.20" font-size="10.1" textLength="78.80" lengthAdjust="spacingAndGlyphs" fill="#2b2b2b" stroke="#2b2b2b" stroke-width="0.22">(normalized by GAPDH)</text>
<line x1="82.40" y1="491.80" x2="82.40" y2="500.70" stroke="#333" stroke-width="1.0"/>
<text x="68.90" y="497.60" font-size="7.9" textLength="10.81" lengthAdjust="spacingAndGlyphs" fill="#2b2b2b" stroke="#2b2b2b" stroke-width="0.12">n.s.</text>
<line x1="82.40" y1="531.20" x2="82.40" y2="540.50" stroke="#333" stroke-width="1.0"/>
<text x="68.90" y="536.60" font-size="7.9" textLength="10.81" lengthAdjust="spacingAndGlyphs" fill="#2b2b2b" stroke="#2b2b2b" stroke-width="0.12">n.s.</text>
<text x="207.95" y="465.40" font-size="10.2" textLength="18.12" lengthAdjust="spacingAndGlyphs" fill="#2b2b2b" stroke="#2b2b2b" stroke-width="0.12">IL1B</text>
<text x="138.90" y="484.50" font-size="8.1" textLength="34.18" lengthAdjust="spacingAndGlyphs" fill="#2b2b2b" stroke="#2b2b2b" stroke-width="0.12">NeuPs-XL</text>
<text x="138.90" y="494.10" font-size="8.1" textLength="42.50" lengthAdjust="spacingAndGlyphs" fill="#2b2b2b" stroke="#2b2b2b" stroke-width="0.12">S. aureus (–)</text>
<text x="138.90" y="504.10" font-size="8.1" textLength="34.18" lengthAdjust="spacingAndGlyphs" fill="#2b2b2b" stroke="#2b2b2b" stroke-width="0.12">NeuPs-XL</text>
<text x="138.90" y="513.70" font-size="8.1" textLength="43.99" lengthAdjust="spacingAndGlyphs" fill="#2b2b2b" stroke="#2b2b2b" stroke-width="0.12">S. aureus (+)</text>
<text x="138.90" y="523.70" font-size="8.1" textLength="35.28" lengthAdjust="spacingAndGlyphs" fill="#2b2b2b" stroke="#2b2b2b" stroke-width="0.12">NeuCs-XL</text>
<text x="138.90" y="533.30" font-size="8.1" textLength="42.50" lengthAdjust="spacingAndGlyphs" fill="#2b2b2b" stroke="#2b2b2b" stroke-width="0.12">S. aureus (–)</text>
<text x="138.90" y="543.30" font-size="8.1" textLength="35.28" lengthAdjust="spacingAndGlyphs" fill="#2b2b2b" stroke="#2b2b2b" stroke-width="0.12">NeuCs-XL</text>
<text x="138.90" y="552.90" font-size="8.1" textLength="43.99" lengthAdjust="spacingAndGlyphs" fill="#2b2b2b" stroke="#2b2b2b" stroke-width="0.12">S. aureus (+)</text>
<rect x="215.20" y="480.05" width="11.30" height="12.7" fill="#8391c3" stroke="#6f7fb7" stroke-width="0.5"/>
<rect x="218.10" y="499.65" width="8.40" height="12.7" fill="#ea8a7c" stroke="#de6f62" stroke-width="0.5"/>
<rect x="226.50" y="519.25" width="9.30" height="12.7" fill="#8c8c8c" stroke="#7a7a7a" stroke-width="0.5"/>
<rect x="226.50" y="538.85" width="12.00" height="12.7" fill="#a6dca2" stroke="#8fd08c" stroke-width="0.5"/>
<line x1="236.00" y1="473.70" x2="236.00" y2="557.80" stroke="#222" stroke-width="0.8" stroke-dasharray="0.8 0.8"/>
<line x1="226.50" y1="473.70" x2="226.50" y2="557.80" stroke="#3a3a3a" stroke-width="0.9"/>
<circle cx="206.00" cy="486.70" r="0.95" fill="#0d4d8c"/>
<circle cx="215.30" cy="484.70" r="0.95" fill="#0d4d8c"/>
<circle cx="217.10" cy="488.70" r="0.95" fill="#0d4d8c"/>
<circle cx="217.80" cy="504.20" r="0.95" fill="#d0101e"/>
<circle cx="215.60" cy="508.10" r="0.95" fill="#d0101e"/>
<circle cx="219.30" cy="508.10" r="0.95" fill="#d0101e"/>
<path d="M235.10,525.30 L236.90,525.30 L236.00,523.60 Z" fill="#111111"/>
<path d="M234.10,528.80 L235.90,528.80 L235.00,527.10 Z" fill="#111111"/>
<path d="M238.90,541.90 L240.00,543.00 L238.90,544.10 L237.80,543.00 Z" fill="#20b040"/>
<path d="M236.50,544.10 L237.60,545.20 L236.50,546.30 L235.40,545.20 Z" fill="#20b040"/>
<path d="M240.00,545.90 L241.10,547.00 L240.00,548.10 L238.90,547.00 Z" fill="#20b040"/>
<line x1="188.40" y1="473.70" x2="188.40" y2="558.60" stroke="#1e1e1e" stroke-width="1.1"/>
<line x1="187.90" y1="558.10" x2="245.50" y2="558.10" stroke="#1e1e1e" stroke-width="1.15"/>
<line x1="185.20" y1="486.40" x2="188.40" y2="486.40" stroke="#1e1e1e" stroke-width="0.9"/>
<line x1="185.20" y1="506.00" x2="188.40" y2="506.00" stroke="#1e1e1e" stroke-width="0.9"/>
<line x1="185.20" y1="525.60" x2="188.40" y2="525.60" stroke="#1e1e1e" stroke-width="0.9"/>
<line x1="185.20" y1="545.20" x2="188.40" y2="545.20" stroke="#1e1e1e" stroke-width="0.9"/>
<line x1="188.40" y1="557.80" x2="188.40" y2="560.70" stroke="#1e1e1e" stroke-width="0.9"/>
<g transform="translate(191.90,563.00) rotate(-90) scale(0.78,1)"><text x="-18.06" y="0" font-size="9.6" fill="#2b2b2b" stroke="#2b2b2b" stroke-width="0.12">10<tspan dy="-3.4" font-size="6.3">−5</tspan></text></g>
<line x1="197.90" y1="557.80" x2="197.90" y2="560.70" stroke="#1e1e1e" stroke-width="0.9"/>
<g transform="translate(201.40,563.00) rotate(-90) scale(0.78,1)"><text x="-18.06" y="0" font-size="9.6" fill="#2b2b2b" stroke="#2b2b2b" stroke-width="0.12">10<tspan dy="-3.4" font-size="6.3">−4</tspan></text></g>
<line x1="207.40" y1="557.80" x2="207.40" y2="560.70" stroke="#1e1e1e" stroke-width="0.9"/>
<g transform="translate(210.90,563.00) rotate(-90) scale(0.78,1)"><text x="-18.06" y="0" font-size="9.6" fill="#2b2b2b" stroke="#2b2b2b" stroke-width="0.12">10<tspan dy="-3.4" font-size="6.3">−3</tspan></text></g>
<line x1="216.90" y1="557.80" x2="216.90" y2="560.70" stroke="#1e1e1e" stroke-width="0.9"/>
<g transform="translate(220.40,563.00) rotate(-90) scale(0.78,1)"><text x="-18.06" y="0" font-size="9.6" fill="#2b2b2b" stroke="#2b2b2b" stroke-width="0.12">10<tspan dy="-3.4" font-size="6.3">−2</tspan></text></g>
<line x1="226.40" y1="557.80" x2="226.40" y2="560.70" stroke="#1e1e1e" stroke-width="0.9"/>
<g transform="translate(229.90,563.00) rotate(-90) scale(0.78,1)"><text x="-18.06" y="0" font-size="9.6" fill="#2b2b2b" stroke="#2b2b2b" stroke-width="0.12">10<tspan dy="-3.4" font-size="6.3">−1</tspan></text></g>
<line x1="235.90" y1="557.80" x2="235.90" y2="560.70" stroke="#1e1e1e" stroke-width="0.9"/>
<g transform="translate(239.40,563.00) rotate(-90) scale(0.78,1)"><text x="-14.38" y="0" font-size="9.6" fill="#2b2b2b" stroke="#2b2b2b" stroke-width="0.12">10<tspan dy="-3.4" font-size="6.3">0</tspan></text></g>
<line x1="245.40" y1="557.80" x2="245.40" y2="560.70" stroke="#1e1e1e" stroke-width="0.9"/>
<g transform="translate(248.90,563.00) rotate(-90) scale(0.78,1)"><text x="-14.38" y="0" font-size="9.6" fill="#2b2b2b" stroke="#2b2b2b" stroke-width="0.12">10<tspan dy="-3.4" font-size="6.3">1</tspan></text></g>
<text x="176.70" y="588.90" font-size="10.1" textLength="81.99" lengthAdjust="spacingAndGlyphs" fill="#2b2b2b" stroke="#2b2b2b" stroke-width="0.22">Relative gene expression</text>
<text x="177.70" y="600.20" font-size="10.1" textLength="78.80" lengthAdjust="spacingAndGlyphs" fill="#2b2b2b" stroke="#2b2b2b" stroke-width="0.22">(normalized by GAPDH)</text>
<line x1="210.40" y1="490.40" x2="210.40" y2="499.20" stroke="#333" stroke-width="1.0"/>
<text x="196.70" y="496.00" font-size="7.9" textLength="10.81" lengthAdjust="spacingAndGlyphs" fill="#2b2b2b" stroke="#2b2b2b" stroke-width="0.12">n.s.</text>
<line x1="210.40" y1="529.70" x2="210.40" y2="538.60" stroke="#333" stroke-width="1.0"/>
<text x="196.70" y="535.30" font-size="7.9" textLength="10.81" lengthAdjust="spacingAndGlyphs" fill="#2b2b2b" stroke="#2b2b2b" stroke-width="0.12">n.s.</text>
<text x="332.45" y="462.30" font-size="10.2" textLength="22.46" lengthAdjust="spacingAndGlyphs" fill="#2b2b2b" stroke="#2b2b2b" stroke-width="0.12">TNFa</text>
<text x="265.60" y="481.90" font-size="8.1" textLength="34.18" lengthAdjust="spacingAndGlyphs" fill="#2b2b2b" stroke="#2b2b2b" stroke-width="0.12">NeuPs-XL</text>
<text x="265.60" y="491.50" font-size="8.1" textLength="42.50" lengthAdjust="spacingAndGlyphs" fill="#2b2b2b" stroke="#2b2b2b" stroke-width="0.12">S. aureus (–)</text>
<text x="265.60" y="501.50" font-size="8.1" textLength="34.18" lengthAdjust="spacingAndGlyphs" fill="#2b2b2b" stroke="#2b2b2b" stroke-width="0.12">NeuPs-XL</text>
<text x="265.60" y="511.10" font-size="8.1" textLength="43.99" lengthAdjust="spacingAndGlyphs" fill="#2b2b2b" stroke="#2b2b2b" stroke-width="0.12">S. aureus (+)</text>
<text x="265.60" y="521.10" font-size="8.1" textLength="35.28" lengthAdjust="spacingAndGlyphs" fill="#2b2b2b" stroke="#2b2b2b" stroke-width="0.12">NeuCs-XL</text>
<text x="265.60" y="530.70" font-size="8.1" textLength="42.50" lengthAdjust="spacingAndGlyphs" fill="#2b2b2b" stroke="#2b2b2b" stroke-width="0.12">S. aureus (–)</text>
<text x="265.60" y="540.70" font-size="8.1" textLength="35.28" lengthAdjust="spacingAndGlyphs" fill="#2b2b2b" stroke="#2b2b2b" stroke-width="0.12">NeuCs-XL</text>
<text x="265.60" y="550.30" font-size="8.1" textLength="43.99" lengthAdjust="spacingAndGlyphs" fill="#2b2b2b" stroke="#2b2b2b" stroke-width="0.12">S. aureus (+)</text>
<rect x="343.40" y="477.45" width="9.80" height="12.7" fill="#8391c3" stroke="#6f7fb7" stroke-width="0.5"/>
<rect x="346.00" y="497.05" width="7.20" height="12.7" fill="#ea8a7c" stroke="#de6f62" stroke-width="0.5"/>
<rect x="353.20" y="516.65" width="9.00" height="12.7" fill="#8c8c8c" stroke="#7a7a7a" stroke-width="0.5"/>
<rect x="353.20" y="536.25" width="12.70" height="12.7" fill="#a6dca2" stroke="#8fd08c" stroke-width="0.5"/>
<line x1="362.70" y1="471.10" x2="362.70" y2="555.20" stroke="#222" stroke-width="0.8" stroke-dasharray="0.8 0.8"/>
<line x1="353.20" y1="471.10" x2="353.20" y2="555.20" stroke="#3a3a3a" stroke-width="0.9"/>
<circle cx="324.60" cy="483.90" r="0.95" fill="#0d4d8c"/>
<circle cx="344.50" cy="482.00" r="0.95" fill="#0d4d8c"/>
<circle cx="345.70" cy="485.90" r="0.95" fill="#0d4d8c"/>
<circle cx="346.80" cy="501.40" r="0.95" fill="#d0101e"/>
<circle cx="343.40" cy="503.60" r="0.95" fill="#d0101e"/>
<circle cx="348.00" cy="505.10" r="0.95" fill="#d0101e"/>
<path d="M361.60,520.40 L363.40,520.40 L362.50,518.70 Z" fill="#111111"/>
<path d="M362.10,524.50 L363.90,524.50 L363.00,522.80 Z" fill="#111111"/>
<path d="M361.60,527.80 L363.40,527.80 L362.50,526.10 Z" fill="#111111"/>
<path d="M365.90,537.40 L367.00,538.50 L365.90,539.60 L364.80,538.50 Z" fill="#20b040"/>
<path d="M367.00,541.30 L368.10,542.40 L367.00,543.50 L365.90,542.40 Z" fill="#20b040"/>
<path d="M365.50,545.30 L366.60,546.40 L365.50,547.50 L364.40,546.40 Z" fill="#20b040"/>
<line x1="315.10" y1="471.10" x2="315.10" y2="556.00" stroke="#1e1e1e" stroke-width="1.1"/>
<line x1="314.60" y1="555.50" x2="372.20" y2="555.50" stroke="#1e1e1e" stroke-width="1.15"/>
<line x1="311.90" y1="483.80" x2="315.10" y2="483.80" stroke="#1e1e1e" stroke-width="0.9"/>
<line x1="311.90" y1="503.40" x2="315.10" y2="503.40" stroke="#1e1e1e" stroke-width="0.9"/>
<line x1="311.90" y1="523.00" x2="315.10" y2="523.00" stroke="#1e1e1e" stroke-width="0.9"/>
<line x1="311.90" y1="542.60" x2="315.10" y2="542.60" stroke="#1e1e1e" stroke-width="0.9"/>
<line x1="315.10" y1="555.20" x2="315.10" y2="558.10" stroke="#1e1e1e" stroke-width="0.9"/>
<g transform="translate(318.60,560.40) rotate(-90) scale(0.78,1)"><text x="-18.06" y="0" font-size="9.6" fill="#2b2b2b" stroke="#2b2b2b" stroke-width="0.12">10<tspan dy="-3.4" font-size="6.3">−5</tspan></text></g>
<line x1="324.60" y1="555.20" x2="324.60" y2="558.10" stroke="#1e1e1e" stroke-width="0.9"/>
<g transform="translate(328.10,560.40) rotate(-90) scale(0.78,1)"><text x="-18.06" y="0" font-size="9.6" fill="#2b2b2b" stroke="#2b2b2b" stroke-width="0.12">10<tspan dy="-3.4" font-size="6.3">−4</tspan></text></g>
<line x1="334.10" y1="555.20" x2="334.10" y2="558.10" stroke="#1e1e1e" stroke-width="0.9"/>
<g transform="translate(337.60,560.40) rotate(-90) scale(0.78,1)"><text x="-18.06" y="0" font-size="9.6" fill="#2b2b2b" stroke="#2b2b2b" stroke-width="0.12">10<tspan dy="-3.4" font-size="6.3">−3</tspan></text></g>
<line x1="343.60" y1="555.20" x2="343.60" y2="558.10" stroke="#1e1e1e" stroke-width="0.9"/>
<g transform="translate(347.10,560.40) rotate(-90) scale(0.78,1)"><text x="-18.06" y="0" font-size="9.6" fill="#2b2b2b" stroke="#2b2b2b" stroke-width="0.12">10<tspan dy="-3.4" font-size="6.3">−2</tspan></text></g>
<line x1="353.10" y1="555.20" x2="353.10" y2="558.10" stroke="#1e1e1e" stroke-width="0.9"/>
<g transform="translate(356.60,560.40) rotate(-90) scale(0.78,1)"><text x="-18.06" y="0" font-size="9.6" fill="#2b2b2b" stroke="#2b2b2b" stroke-width="0.12">10<tspan dy="-3.4" font-size="6.3">−1</tspan></text></g>
<line x1="362.60" y1="555.20" x2="362.60" y2="558.10" stroke="#1e1e1e" stroke-width="0.9"/>
<g transform="translate(366.10,560.40) rotate(-90) scale(0.78,1)"><text x="-14.38" y="0" font-size="9.6" fill="#2b2b2b" stroke="#2b2b2b" stroke-width="0.12">10<tspan dy="-3.4" font-size="6.3">0</tspan></text></g>
<line x1="372.10" y1="555.20" x2="372.10" y2="558.10" stroke="#1e1e1e" stroke-width="0.9"/>
<g transform="translate(375.60,560.40) rotate(-90) scale(0.78,1)"><text x="-14.38" y="0" font-size="9.6" fill="#2b2b2b" stroke="#2b2b2b" stroke-width="0.12">10<tspan dy="-3.4" font-size="6.3">1</tspan></text></g>
<text x="303.40" y="586.30" font-size="10.1" textLength="81.99" lengthAdjust="spacingAndGlyphs" fill="#2b2b2b" stroke="#2b2b2b" stroke-width="0.22">Relative gene expression</text>
<text x="304.40" y="597.60" font-size="10.1" textLength="78.80" lengthAdjust="spacingAndGlyphs" fill="#2b2b2b" stroke="#2b2b2b" stroke-width="0.22">(normalized by GAPDH)</text>
<line x1="339.70" y1="489.30" x2="339.70" y2="498.20" stroke="#333" stroke-width="1.0"/>
<text x="326.10" y="495.00" font-size="7.9" textLength="10.81" lengthAdjust="spacingAndGlyphs" fill="#2b2b2b" stroke="#2b2b2b" stroke-width="0.12">n.s.</text>
<line x1="339.70" y1="528.40" x2="339.70" y2="537.60" stroke="#333" stroke-width="1.0"/>
<circle cx="329.10" cy="532.40" r="1.0" fill="#333"/>
<circle cx="332.50" cy="532.40" r="1.0" fill="#333"/>
<circle cx="335.90" cy="532.40" r="1.0" fill="#333"/>
<rect x="0" y="0" width="520" height="1.0" fill="#161212"/><rect x="0" y="608.7" width="520" height="1.3" fill="#161212"/><rect x="0" y="0" width="1.0" height="610" fill="#161212"/><rect x="518.8" y="0" width="1.2" height="610" fill="#161212"/>
</svg>
</body></html>
